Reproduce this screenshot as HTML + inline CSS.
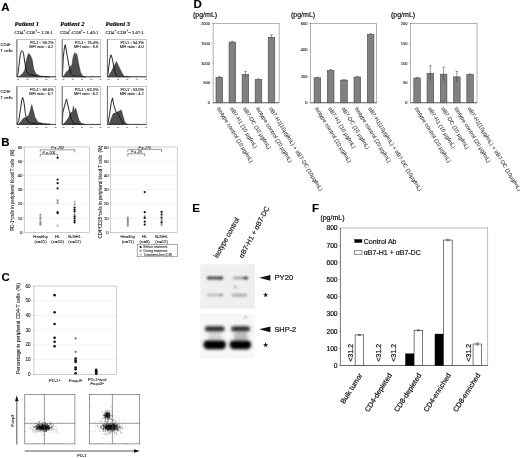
<!DOCTYPE html>
<html lang="en">
<head>
<meta charset="utf-8">
<title>Figure</title>
<style>
html,body{margin:0;padding:0;background:#fff;}
body{width:520px;height:458px;overflow:hidden;}
svg{display:block;}
.ss{font-family:'Liberation Sans', Arial, sans-serif;}
.sf{font-family:'Liberation Serif', 'Times New Roman', serif;}
</style>
</head>
<body>
<svg width="520" height="458" viewBox="0 0 520 458">
<defs>
<filter id="b1" x="-10%" y="-10%" width="120%" height="120%"><feGaussianBlur stdDeviation="1.0"/></filter>
<filter id="b2" x="-10%" y="-20%" width="120%" height="140%"><feGaussianBlur stdDeviation="1.35"/></filter>
<filter id="bl" x="-5%" y="-5%" width="110%" height="110%"><feGaussianBlur stdDeviation="0.6"/></filter>
</defs>
<rect width="520" height="458" fill="#fff"/>
<text class="ss" x="1.20" y="11.20" font-size="11.5" font-weight="bold" fill="#000" stroke="#000" stroke-width="0.15">A</text>
<text class="sf" x="14.60" y="25.80" font-size="6.6" font-weight="bold" font-style="italic" fill="#000" stroke="#000" stroke-width="0.15">Patient 1</text>
<text class="sf" x="14.60" y="33.80" font-size="4.7" fill="#222" stroke="#222" stroke-width="0.1">CD4<tspan dy="-1.41" font-size="2.91">+</tspan><tspan dy="1.41" font-size="0.47"> </tspan>:CD8<tspan dy="-1.41" font-size="2.91">+</tspan><tspan dy="1.41" font-size="0.47"> </tspan> = 1.26:1</text>
<text class="sf" x="60.20" y="25.80" font-size="6.6" font-weight="bold" font-style="italic" fill="#000" stroke="#000" stroke-width="0.15">Patient 2</text>
<text class="sf" x="60.20" y="33.80" font-size="4.7" fill="#222" stroke="#222" stroke-width="0.1">CD4<tspan dy="-1.41" font-size="2.91">+</tspan><tspan dy="1.41" font-size="0.47"> </tspan>:CD8<tspan dy="-1.41" font-size="2.91">+</tspan><tspan dy="1.41" font-size="0.47"> </tspan> = 1.40:1</text>
<text class="sf" x="105.60" y="25.80" font-size="6.6" font-weight="bold" font-style="italic" fill="#000" stroke="#000" stroke-width="0.15">Patient 3</text>
<text class="sf" x="105.60" y="33.80" font-size="4.7" fill="#222" stroke="#222" stroke-width="0.1">CD4<tspan dy="-1.41" font-size="2.91">+</tspan><tspan dy="1.41" font-size="0.47"> </tspan>:CD8<tspan dy="-1.41" font-size="2.91">+</tspan><tspan dy="1.41" font-size="0.47"> </tspan> = 3.67:1</text>
<text class="ss" x="0.60" y="45.80" font-size="4.2" fill="#111" stroke="#111" stroke-width="0.1">CD4<tspan dy="-1.26" font-size="2.60">+</tspan><tspan dy="1.26" font-size="0.42"> </tspan></text>
<text class="ss" x="0.60" y="51.60" font-size="4.2" fill="#111" stroke="#111" stroke-width="0.1">T cells</text>
<text class="ss" x="0.60" y="93.00" font-size="4.2" fill="#111" stroke="#111" stroke-width="0.1">CD8<tspan dy="-1.26" font-size="2.60">+</tspan><tspan dy="1.26" font-size="0.42"> </tspan></text>
<text class="ss" x="0.60" y="98.80" font-size="4.2" fill="#111" stroke="#111" stroke-width="0.1">T cells</text>
<polygon points="18.8,76.8 22.6,73.5 24.6,70.7 26.0,62.0 27.4,56.3 28.3,54.0 28.9,53.4 29.8,54.5 30.8,56.3 32.3,60.1 33.7,68.7 35.6,73.5 39.9,75.9 47.6,76.8" fill="#4e4e4e" stroke="#222" stroke-width="0.4"/>
<polyline points="16.9,76.8 18.0,74.0 18.8,66.8 20.2,55.3 21.2,51.5 21.9,50.5 22.8,51.5 23.6,53.9 25.0,63.9 26.5,71.6 29.4,74.5 38.0,76.3 50.0,76.8" fill="none" stroke="#111" stroke-width="0.9" stroke-linejoin="round"/>
<rect x="16.90" y="39.60" width="38.90" height="37.20" fill="none" stroke="#8a8a8a" stroke-width="0.5"/>
<line x1="16.90" y1="39.60" x2="16.90" y2="76.80" stroke="#444" stroke-width="0.7"/>
<line x1="16.90" y1="76.80" x2="55.80" y2="76.80" stroke="#222" stroke-width="0.8"/>
<line x1="18.10" y1="76.80" x2="18.10" y2="78.00" stroke="#444" stroke-width="0.4"/>
<text class="ss" x="18.10" y="80.40" font-size="1.8" text-anchor="middle" fill="#666" stroke="#666" stroke-width="0.1">10</text>
<line x1="27.47" y1="76.80" x2="27.47" y2="78.00" stroke="#444" stroke-width="0.4"/>
<text class="ss" x="27.47" y="80.40" font-size="1.8" text-anchor="middle" fill="#666" stroke="#666" stroke-width="0.1">10</text>
<line x1="36.85" y1="76.80" x2="36.85" y2="78.00" stroke="#444" stroke-width="0.4"/>
<text class="ss" x="36.85" y="80.40" font-size="1.8" text-anchor="middle" fill="#666" stroke="#666" stroke-width="0.1">10</text>
<line x1="46.22" y1="76.80" x2="46.22" y2="78.00" stroke="#444" stroke-width="0.4"/>
<text class="ss" x="46.22" y="80.40" font-size="1.8" text-anchor="middle" fill="#666" stroke="#666" stroke-width="0.1">10</text>
<line x1="55.60" y1="76.80" x2="55.60" y2="78.00" stroke="#444" stroke-width="0.4"/>
<text class="ss" x="55.60" y="80.40" font-size="1.8" text-anchor="middle" fill="#666" stroke="#666" stroke-width="0.1">10</text>
<text class="ss" x="53.50" y="43.80" font-size="3.9" text-anchor="end" fill="#222" stroke="#222" stroke-width="0.1">PD-1<tspan dy="-1.17" font-size="2.42">+</tspan><tspan dy="1.17" font-size="0.39"> </tspan> : 59.2%</text>
<text class="ss" x="53.20" y="48.00" font-size="3.9" text-anchor="end" fill="#222" stroke="#222" stroke-width="0.1">MFI ratio : 4.2</text>
<polygon points="63.3,76.8 66.6,71.6 68.1,70.7 70.0,66.8 71.9,64.9 72.9,58.2 74.2,53.5 74.8,52.4 75.8,55.3 76.7,53.4 77.6,57.5 78.7,63.9 80.6,72.6 83.0,76.3 86.0,76.8" fill="#4e4e4e" stroke="#222" stroke-width="0.4"/>
<polyline points="62.4,76.8 63.3,57.2 64.4,48.0 65.2,44.7 66.1,49.0 67.1,55.3 69.0,65.9 71.0,73.5 73.4,76.0 85.0,76.8" fill="none" stroke="#111" stroke-width="0.9" stroke-linejoin="round"/>
<rect x="62.20" y="39.60" width="38.50" height="37.20" fill="none" stroke="#8a8a8a" stroke-width="0.5"/>
<line x1="62.20" y1="39.60" x2="62.20" y2="76.80" stroke="#444" stroke-width="0.7"/>
<line x1="62.20" y1="76.80" x2="100.70" y2="76.80" stroke="#222" stroke-width="0.8"/>
<line x1="63.40" y1="76.80" x2="63.40" y2="78.00" stroke="#444" stroke-width="0.4"/>
<text class="ss" x="63.40" y="80.40" font-size="1.8" text-anchor="middle" fill="#666" stroke="#666" stroke-width="0.1">10</text>
<line x1="72.68" y1="76.80" x2="72.68" y2="78.00" stroke="#444" stroke-width="0.4"/>
<text class="ss" x="72.68" y="80.40" font-size="1.8" text-anchor="middle" fill="#666" stroke="#666" stroke-width="0.1">10</text>
<line x1="81.95" y1="76.80" x2="81.95" y2="78.00" stroke="#444" stroke-width="0.4"/>
<text class="ss" x="81.95" y="80.40" font-size="1.8" text-anchor="middle" fill="#666" stroke="#666" stroke-width="0.1">10</text>
<line x1="91.23" y1="76.80" x2="91.23" y2="78.00" stroke="#444" stroke-width="0.4"/>
<text class="ss" x="91.23" y="80.40" font-size="1.8" text-anchor="middle" fill="#666" stroke="#666" stroke-width="0.1">10</text>
<line x1="100.50" y1="76.80" x2="100.50" y2="78.00" stroke="#444" stroke-width="0.4"/>
<text class="ss" x="100.50" y="80.40" font-size="1.8" text-anchor="middle" fill="#666" stroke="#666" stroke-width="0.1">10</text>
<text class="ss" x="98.40" y="43.80" font-size="3.9" text-anchor="end" fill="#222" stroke="#222" stroke-width="0.1">PD-1<tspan dy="-1.17" font-size="2.42">+</tspan><tspan dy="1.17" font-size="0.39"> </tspan> : 76.4%</text>
<text class="ss" x="98.10" y="48.00" font-size="3.9" text-anchor="end" fill="#222" stroke="#222" stroke-width="0.1">MFI ratio : 8.8</text>
<polygon points="108.3,76.8 111.7,70.7 114.1,65.9 116.5,61.5 119.4,67.8 122.3,73.5 124.7,76.8" fill="#4e4e4e" stroke="#222" stroke-width="0.4"/>
<polyline points="107.6,76.8 108.8,66.8 110.0,58.0 110.9,54.8 111.8,57.0 112.6,60.1 114.1,68.7 116.0,75.0 118.0,76.4 130.0,76.8" fill="none" stroke="#111" stroke-width="0.9" stroke-linejoin="round"/>
<rect x="107.40" y="39.60" width="38.90" height="37.20" fill="none" stroke="#8a8a8a" stroke-width="0.5"/>
<line x1="107.40" y1="39.60" x2="107.40" y2="76.80" stroke="#444" stroke-width="0.7"/>
<line x1="107.40" y1="76.80" x2="146.30" y2="76.80" stroke="#222" stroke-width="0.8"/>
<line x1="108.60" y1="76.80" x2="108.60" y2="78.00" stroke="#444" stroke-width="0.4"/>
<text class="ss" x="108.60" y="80.40" font-size="1.8" text-anchor="middle" fill="#666" stroke="#666" stroke-width="0.1">10</text>
<line x1="117.98" y1="76.80" x2="117.98" y2="78.00" stroke="#444" stroke-width="0.4"/>
<text class="ss" x="117.98" y="80.40" font-size="1.8" text-anchor="middle" fill="#666" stroke="#666" stroke-width="0.1">10</text>
<line x1="127.35" y1="76.80" x2="127.35" y2="78.00" stroke="#444" stroke-width="0.4"/>
<text class="ss" x="127.35" y="80.40" font-size="1.8" text-anchor="middle" fill="#666" stroke="#666" stroke-width="0.1">10</text>
<line x1="136.73" y1="76.80" x2="136.73" y2="78.00" stroke="#444" stroke-width="0.4"/>
<text class="ss" x="136.73" y="80.40" font-size="1.8" text-anchor="middle" fill="#666" stroke="#666" stroke-width="0.1">10</text>
<line x1="146.10" y1="76.80" x2="146.10" y2="78.00" stroke="#444" stroke-width="0.4"/>
<text class="ss" x="146.10" y="80.40" font-size="1.8" text-anchor="middle" fill="#666" stroke="#666" stroke-width="0.1">10</text>
<text class="ss" x="144.00" y="43.80" font-size="3.9" text-anchor="end" fill="#222" stroke="#222" stroke-width="0.1">PD-1<tspan dy="-1.17" font-size="2.42">+</tspan><tspan dy="1.17" font-size="0.39"> </tspan> : 54.3%</text>
<text class="ss" x="143.70" y="48.00" font-size="3.9" text-anchor="end" fill="#222" stroke="#222" stroke-width="0.1">MFI ratio : 4.0</text>
<polygon points="18.3,124.4 21.7,120.5 23.6,118.1 26.5,117.6 28.9,114.7 30.3,109.9 31.8,104.6 33.2,109.9 35.1,117.6 38.0,121.9 42.8,123.4 50.5,124.4" fill="#4e4e4e" stroke="#222" stroke-width="0.4"/>
<polyline points="17.1,124.4 18.8,120.5 20.7,108.0 21.8,100.0 22.6,97.4 23.4,99.5 24.1,103.2 25.5,114.7 27.0,120.5 30.3,122.9 38.0,124.0 50.0,124.4" fill="none" stroke="#111" stroke-width="0.9" stroke-linejoin="round"/>
<rect x="16.90" y="86.40" width="38.90" height="38.00" fill="none" stroke="#8a8a8a" stroke-width="0.5"/>
<line x1="16.90" y1="86.40" x2="16.90" y2="124.40" stroke="#444" stroke-width="0.7"/>
<line x1="16.90" y1="124.40" x2="55.80" y2="124.40" stroke="#222" stroke-width="0.8"/>
<line x1="18.10" y1="124.40" x2="18.10" y2="125.60" stroke="#444" stroke-width="0.4"/>
<text class="ss" x="18.10" y="128.00" font-size="1.8" text-anchor="middle" fill="#666" stroke="#666" stroke-width="0.1">10</text>
<line x1="27.47" y1="124.40" x2="27.47" y2="125.60" stroke="#444" stroke-width="0.4"/>
<text class="ss" x="27.47" y="128.00" font-size="1.8" text-anchor="middle" fill="#666" stroke="#666" stroke-width="0.1">10</text>
<line x1="36.85" y1="124.40" x2="36.85" y2="125.60" stroke="#444" stroke-width="0.4"/>
<text class="ss" x="36.85" y="128.00" font-size="1.8" text-anchor="middle" fill="#666" stroke="#666" stroke-width="0.1">10</text>
<line x1="46.22" y1="124.40" x2="46.22" y2="125.60" stroke="#444" stroke-width="0.4"/>
<text class="ss" x="46.22" y="128.00" font-size="1.8" text-anchor="middle" fill="#666" stroke="#666" stroke-width="0.1">10</text>
<line x1="55.60" y1="124.40" x2="55.60" y2="125.60" stroke="#444" stroke-width="0.4"/>
<text class="ss" x="55.60" y="128.00" font-size="1.8" text-anchor="middle" fill="#666" stroke="#666" stroke-width="0.1">10</text>
<text class="ss" x="53.50" y="90.60" font-size="3.9" text-anchor="end" fill="#222" stroke="#222" stroke-width="0.1">PD-1<tspan dy="-1.17" font-size="2.42">+</tspan><tspan dy="1.17" font-size="0.39"> </tspan> : 68.6%</text>
<text class="ss" x="53.20" y="94.80" font-size="3.9" text-anchor="end" fill="#222" stroke="#222" stroke-width="0.1">MFI ratio : 6.7</text>
<polygon points="63.3,124.4 66.6,120.5 68.6,117.6 70.5,112.8 72.4,111.9 73.4,106.1 74.3,110.9 75.8,108.0 77.2,113.8 79.1,120.5 82.0,123.9 84.0,124.4" fill="#4e4e4e" stroke="#222" stroke-width="0.4"/>
<polyline points="62.3,124.4 62.8,112.8 64.7,105.1 66.0,100.5 66.5,98.9 67.0,101.0 67.6,104.2 69.5,111.9 71.4,119.5 73.9,123.9 85.0,124.4" fill="none" stroke="#111" stroke-width="0.9" stroke-linejoin="round"/>
<rect x="62.20" y="86.40" width="38.50" height="38.00" fill="none" stroke="#8a8a8a" stroke-width="0.5"/>
<line x1="62.20" y1="86.40" x2="62.20" y2="124.40" stroke="#444" stroke-width="0.7"/>
<line x1="62.20" y1="124.40" x2="100.70" y2="124.40" stroke="#222" stroke-width="0.8"/>
<line x1="63.40" y1="124.40" x2="63.40" y2="125.60" stroke="#444" stroke-width="0.4"/>
<text class="ss" x="63.40" y="128.00" font-size="1.8" text-anchor="middle" fill="#666" stroke="#666" stroke-width="0.1">10</text>
<line x1="72.68" y1="124.40" x2="72.68" y2="125.60" stroke="#444" stroke-width="0.4"/>
<text class="ss" x="72.68" y="128.00" font-size="1.8" text-anchor="middle" fill="#666" stroke="#666" stroke-width="0.1">10</text>
<line x1="81.95" y1="124.40" x2="81.95" y2="125.60" stroke="#444" stroke-width="0.4"/>
<text class="ss" x="81.95" y="128.00" font-size="1.8" text-anchor="middle" fill="#666" stroke="#666" stroke-width="0.1">10</text>
<line x1="91.23" y1="124.40" x2="91.23" y2="125.60" stroke="#444" stroke-width="0.4"/>
<text class="ss" x="91.23" y="128.00" font-size="1.8" text-anchor="middle" fill="#666" stroke="#666" stroke-width="0.1">10</text>
<line x1="100.50" y1="124.40" x2="100.50" y2="125.60" stroke="#444" stroke-width="0.4"/>
<text class="ss" x="100.50" y="128.00" font-size="1.8" text-anchor="middle" fill="#666" stroke="#666" stroke-width="0.1">10</text>
<text class="ss" x="98.40" y="90.60" font-size="3.9" text-anchor="end" fill="#222" stroke="#222" stroke-width="0.1">PD-1<tspan dy="-1.17" font-size="2.42">+</tspan><tspan dy="1.17" font-size="0.39"> </tspan> : 63.3%</text>
<text class="ss" x="98.10" y="94.80" font-size="3.9" text-anchor="end" fill="#222" stroke="#222" stroke-width="0.1">MFI ratio : 6.2</text>
<polygon points="108.8,124.4 111.2,118.6 113.1,113.8 115.5,112.8 118.4,111.4 121.3,109.9 122.7,114.7 124.7,121.9 127.5,124.4" fill="#4e4e4e" stroke="#222" stroke-width="0.4"/>
<polyline points="107.8,124.4 109.3,115.7 111.2,103.2 112.5,97.9 113.6,104.2 116.0,111.9 118.4,114.0 121.0,120.0 124.0,124.4" fill="none" stroke="#111" stroke-width="0.9" stroke-linejoin="round"/>
<rect x="107.40" y="86.40" width="38.90" height="38.00" fill="none" stroke="#8a8a8a" stroke-width="0.5"/>
<line x1="107.40" y1="86.40" x2="107.40" y2="124.40" stroke="#444" stroke-width="0.7"/>
<line x1="107.40" y1="124.40" x2="146.30" y2="124.40" stroke="#222" stroke-width="0.8"/>
<line x1="108.60" y1="124.40" x2="108.60" y2="125.60" stroke="#444" stroke-width="0.4"/>
<text class="ss" x="108.60" y="128.00" font-size="1.8" text-anchor="middle" fill="#666" stroke="#666" stroke-width="0.1">10</text>
<line x1="117.98" y1="124.40" x2="117.98" y2="125.60" stroke="#444" stroke-width="0.4"/>
<text class="ss" x="117.98" y="128.00" font-size="1.8" text-anchor="middle" fill="#666" stroke="#666" stroke-width="0.1">10</text>
<line x1="127.35" y1="124.40" x2="127.35" y2="125.60" stroke="#444" stroke-width="0.4"/>
<text class="ss" x="127.35" y="128.00" font-size="1.8" text-anchor="middle" fill="#666" stroke="#666" stroke-width="0.1">10</text>
<line x1="136.73" y1="124.40" x2="136.73" y2="125.60" stroke="#444" stroke-width="0.4"/>
<text class="ss" x="136.73" y="128.00" font-size="1.8" text-anchor="middle" fill="#666" stroke="#666" stroke-width="0.1">10</text>
<line x1="146.10" y1="124.40" x2="146.10" y2="125.60" stroke="#444" stroke-width="0.4"/>
<text class="ss" x="146.10" y="128.00" font-size="1.8" text-anchor="middle" fill="#666" stroke="#666" stroke-width="0.1">10</text>
<text class="ss" x="144.00" y="90.60" font-size="3.9" text-anchor="end" fill="#222" stroke="#222" stroke-width="0.1">PD-1<tspan dy="-1.17" font-size="2.42">+</tspan><tspan dy="1.17" font-size="0.39"> </tspan> : 53.0%</text>
<text class="ss" x="143.70" y="94.80" font-size="3.9" text-anchor="end" fill="#222" stroke="#222" stroke-width="0.1">MFI ratio : 4.2</text>
<text class="ss" x="1.20" y="146.30" font-size="11.5" font-weight="bold" fill="#000" stroke="#000" stroke-width="0.15">B</text>
<line x1="23.00" y1="232.40" x2="24.20" y2="232.40" stroke="#888" stroke-width="0.4"/>
<text class="ss" x="22.40" y="233.90" font-size="4.2" text-anchor="end" fill="#222" stroke="#222" stroke-width="0.1">0</text>
<line x1="24.20" y1="218.17" x2="89.60" y2="218.17" stroke="#e2e2e2" stroke-width="0.4"/>
<line x1="23.00" y1="218.17" x2="24.20" y2="218.17" stroke="#888" stroke-width="0.4"/>
<text class="ss" x="22.40" y="219.67" font-size="4.2" text-anchor="end" fill="#222" stroke="#222" stroke-width="0.1">10</text>
<line x1="24.20" y1="203.93" x2="89.60" y2="203.93" stroke="#e2e2e2" stroke-width="0.4"/>
<line x1="23.00" y1="203.93" x2="24.20" y2="203.93" stroke="#888" stroke-width="0.4"/>
<text class="ss" x="22.40" y="205.43" font-size="4.2" text-anchor="end" fill="#222" stroke="#222" stroke-width="0.1">20</text>
<line x1="24.20" y1="189.70" x2="89.60" y2="189.70" stroke="#e2e2e2" stroke-width="0.4"/>
<line x1="23.00" y1="189.70" x2="24.20" y2="189.70" stroke="#888" stroke-width="0.4"/>
<text class="ss" x="22.40" y="191.20" font-size="4.2" text-anchor="end" fill="#222" stroke="#222" stroke-width="0.1">30</text>
<line x1="24.20" y1="175.47" x2="89.60" y2="175.47" stroke="#e2e2e2" stroke-width="0.4"/>
<line x1="23.00" y1="175.47" x2="24.20" y2="175.47" stroke="#888" stroke-width="0.4"/>
<text class="ss" x="22.40" y="176.97" font-size="4.2" text-anchor="end" fill="#222" stroke="#222" stroke-width="0.1">40</text>
<line x1="24.20" y1="161.23" x2="89.60" y2="161.23" stroke="#e2e2e2" stroke-width="0.4"/>
<line x1="23.00" y1="161.23" x2="24.20" y2="161.23" stroke="#888" stroke-width="0.4"/>
<text class="ss" x="22.40" y="162.73" font-size="4.2" text-anchor="end" fill="#222" stroke="#222" stroke-width="0.1">50</text>
<line x1="23.00" y1="147.00" x2="24.20" y2="147.00" stroke="#888" stroke-width="0.4"/>
<text class="ss" x="22.40" y="148.50" font-size="4.2" text-anchor="end" fill="#222" stroke="#222" stroke-width="0.1">60</text>
<rect x="24.20" y="147.00" width="65.40" height="85.40" fill="none" stroke="#9a9a9a" stroke-width="0.5"/>
<text class="ss" transform="translate(13.70 190.00) rotate(-90)" font-size="4.42" text-anchor="middle" fill="#222" stroke="#222" stroke-width="0.1">PD-1<tspan dy="-1.32" font-size="2.73">+</tspan><tspan dy="1.32" font-size="0.44"> </tspan> cells in peripheral blood T cells &#160;(%)</text>
<circle cx="40.40" cy="214.75" r="1.1" fill="#8c8c8c"/>
<circle cx="40.40" cy="217.31" r="1.1" fill="#8c8c8c"/>
<circle cx="40.40" cy="219.31" r="1.1" fill="#8c8c8c"/>
<circle cx="40.40" cy="222.01" r="1.1" fill="#8c8c8c"/>
<circle cx="40.40" cy="223.43" r="1.1" fill="#8c8c8c"/>
<circle cx="40.40" cy="224.57" r="1.1" fill="#8c8c8c"/>
<circle cx="57.60" cy="157.82" r="1.1" fill="#111"/>
<circle cx="57.60" cy="179.59" r="1.1" fill="#111"/>
<circle cx="57.60" cy="183.15" r="1.1" fill="#111"/>
<circle cx="57.60" cy="188.28" r="1.1" fill="#111"/>
<circle cx="57.60" cy="200.38" r="1.1" fill="#8c8c8c"/>
<circle cx="57.60" cy="202.94" r="1.1" fill="#8c8c8c"/>
<circle cx="57.60" cy="212.19" r="1.1" fill="#111"/>
<circle cx="57.60" cy="213.19" r="1.1" fill="#111"/>
<circle cx="57.60" cy="225.57" r="0.9" fill="#ddd" stroke="#888" stroke-width="0.4"/>
<circle cx="74.60" cy="201.94" r="0.9" fill="#ddd" stroke="#888" stroke-width="0.4"/>
<circle cx="74.60" cy="204.50" r="1.1" fill="#8c8c8c"/>
<circle cx="74.60" cy="207.49" r="1.1" fill="#111"/>
<circle cx="74.60" cy="209.63" r="1.1" fill="#111"/>
<circle cx="74.60" cy="211.62" r="1.1" fill="#111"/>
<circle cx="74.60" cy="214.47" r="1.1" fill="#8c8c8c"/>
<circle cx="74.60" cy="216.46" r="1.1" fill="#111"/>
<circle cx="74.60" cy="218.45" r="1.1" fill="#111"/>
<circle cx="74.60" cy="220.59" r="1.1" fill="#111"/>
<circle cx="74.60" cy="222.44" r="1.1" fill="#111"/>
<path d="M40.20 152.40V149.80H74.80V152.40" fill="none" stroke="#333" stroke-width="0.5"/>
<text class="ss" x="57.50" y="149.20" font-size="3.4" text-anchor="middle" font-style="italic" fill="#333" stroke="#333" stroke-width="0.1">P = .232</text>
<path d="M40.20 156.80V154.20H57.60V156.80" fill="none" stroke="#333" stroke-width="0.5"/>
<text class="ss" x="48.90" y="153.60" font-size="3.4" text-anchor="middle" font-style="italic" fill="#333" stroke="#333" stroke-width="0.1">P = .006</text>
<text class="ss" x="40.60" y="237.60" font-size="4.3" text-anchor="middle" fill="#222" stroke="#222" stroke-width="0.1">Healthy</text>
<text class="ss" x="40.60" y="242.60" font-size="4.3" text-anchor="middle" fill="#222" stroke="#222" stroke-width="0.1">(n=11)</text>
<text class="ss" x="57.60" y="237.60" font-size="4.3" text-anchor="middle" fill="#222" stroke="#222" stroke-width="0.1">HL</text>
<text class="ss" x="57.60" y="242.60" font-size="4.3" text-anchor="middle" fill="#222" stroke="#222" stroke-width="0.1">(n=10)</text>
<text class="ss" x="74.60" y="237.60" font-size="4.3" text-anchor="middle" fill="#222" stroke="#222" stroke-width="0.1">B-NHL</text>
<text class="ss" x="74.60" y="242.60" font-size="4.3" text-anchor="middle" fill="#222" stroke="#222" stroke-width="0.1">(n=12)</text>
<line x1="109.40" y1="232.40" x2="110.60" y2="232.40" stroke="#888" stroke-width="0.4"/>
<text class="ss" x="108.60" y="233.90" font-size="4.2" text-anchor="end" fill="#222" stroke="#222" stroke-width="0.1">0</text>
<line x1="110.60" y1="218.17" x2="177.20" y2="218.17" stroke="#e2e2e2" stroke-width="0.4"/>
<line x1="109.40" y1="218.17" x2="110.60" y2="218.17" stroke="#888" stroke-width="0.4"/>
<text class="ss" x="108.60" y="219.67" font-size="4.2" text-anchor="end" fill="#222" stroke="#222" stroke-width="0.1">10</text>
<line x1="110.60" y1="203.93" x2="177.20" y2="203.93" stroke="#e2e2e2" stroke-width="0.4"/>
<line x1="109.40" y1="203.93" x2="110.60" y2="203.93" stroke="#888" stroke-width="0.4"/>
<text class="ss" x="108.60" y="205.43" font-size="4.2" text-anchor="end" fill="#222" stroke="#222" stroke-width="0.1">20</text>
<line x1="110.60" y1="189.70" x2="177.20" y2="189.70" stroke="#e2e2e2" stroke-width="0.4"/>
<line x1="109.40" y1="189.70" x2="110.60" y2="189.70" stroke="#888" stroke-width="0.4"/>
<text class="ss" x="108.60" y="191.20" font-size="4.2" text-anchor="end" fill="#222" stroke="#222" stroke-width="0.1">30</text>
<line x1="110.60" y1="175.47" x2="177.20" y2="175.47" stroke="#e2e2e2" stroke-width="0.4"/>
<line x1="109.40" y1="175.47" x2="110.60" y2="175.47" stroke="#888" stroke-width="0.4"/>
<text class="ss" x="108.60" y="176.97" font-size="4.2" text-anchor="end" fill="#222" stroke="#222" stroke-width="0.1">40</text>
<line x1="110.60" y1="161.23" x2="177.20" y2="161.23" stroke="#e2e2e2" stroke-width="0.4"/>
<line x1="109.40" y1="161.23" x2="110.60" y2="161.23" stroke="#888" stroke-width="0.4"/>
<text class="ss" x="108.60" y="162.73" font-size="4.2" text-anchor="end" fill="#222" stroke="#222" stroke-width="0.1">50</text>
<line x1="109.40" y1="147.00" x2="110.60" y2="147.00" stroke="#888" stroke-width="0.4"/>
<text class="ss" x="108.60" y="148.50" font-size="4.2" text-anchor="end" fill="#222" stroke="#222" stroke-width="0.1">60</text>
<rect x="110.60" y="147.00" width="66.60" height="85.40" fill="none" stroke="#9a9a9a" stroke-width="0.5"/>
<text class="ss" transform="translate(101.50 192.10) rotate(-90)" font-size="4.42" text-anchor="middle" fill="#222" stroke="#222" stroke-width="0.1">CD4<tspan dy="-1.32" font-size="2.73">+</tspan><tspan dy="1.32" font-size="0.44"> </tspan>CD25<tspan dy="-1.32" font-size="2.73">+</tspan><tspan dy="1.32" font-size="0.44"> </tspan> cells in peripheral blood T cells &#160;(%)</text>
<circle cx="127.80" cy="217.60" r="1.1" fill="#8c8c8c"/>
<circle cx="127.80" cy="219.31" r="1.1" fill="#8c8c8c"/>
<circle cx="127.80" cy="220.87" r="1.1" fill="#8c8c8c"/>
<circle cx="127.80" cy="222.44" r="1.1" fill="#8c8c8c"/>
<circle cx="127.80" cy="224.00" r="1.1" fill="#8c8c8c"/>
<circle cx="127.80" cy="225.57" r="1.1" fill="#8c8c8c"/>
<circle cx="144.70" cy="192.12" r="1.1" fill="#111"/>
<circle cx="144.70" cy="212.19" r="1.1" fill="#111"/>
<circle cx="144.70" cy="216.32" r="1.1" fill="#8c8c8c"/>
<circle cx="144.70" cy="217.88" r="1.1" fill="#111"/>
<circle cx="144.70" cy="221.72" r="1.1" fill="#111"/>
<circle cx="144.70" cy="224.57" r="1.1" fill="#111"/>
<circle cx="161.60" cy="211.90" r="1.1" fill="#111"/>
<circle cx="161.60" cy="214.61" r="1.1" fill="#111"/>
<circle cx="161.60" cy="217.60" r="1.1" fill="#111"/>
<circle cx="161.60" cy="219.31" r="1.1" fill="#8c8c8c"/>
<circle cx="161.60" cy="221.01" r="1.1" fill="#8c8c8c"/>
<circle cx="161.60" cy="222.58" r="1.1" fill="#111"/>
<circle cx="161.60" cy="225.00" r="1.1" fill="#8c8c8c"/>
<path d="M127.80 152.00V149.40H161.60V152.00" fill="none" stroke="#333" stroke-width="0.5"/>
<text class="ss" x="144.70" y="148.80" font-size="3.4" text-anchor="middle" font-style="italic" fill="#333" stroke="#333" stroke-width="0.1">P = .275</text>
<path d="M127.80 156.40V153.80H144.70V156.40" fill="none" stroke="#333" stroke-width="0.5"/>
<text class="ss" x="136.25" y="153.20" font-size="3.4" text-anchor="middle" font-style="italic" fill="#333" stroke="#333" stroke-width="0.1">P = .28</text>
<text class="ss" x="127.80" y="237.60" font-size="4.3" text-anchor="middle" fill="#222" stroke="#222" stroke-width="0.1">Healthy</text>
<text class="ss" x="127.80" y="242.60" font-size="4.3" text-anchor="middle" fill="#222" stroke="#222" stroke-width="0.1">(n=11)</text>
<text class="ss" x="144.70" y="237.60" font-size="4.3" text-anchor="middle" fill="#222" stroke="#222" stroke-width="0.1">HL</text>
<text class="ss" x="144.70" y="242.60" font-size="4.3" text-anchor="middle" fill="#222" stroke="#222" stroke-width="0.1">(n=8)</text>
<text class="ss" x="161.60" y="237.60" font-size="4.3" text-anchor="middle" fill="#222" stroke="#222" stroke-width="0.1">B-NHL</text>
<text class="ss" x="161.60" y="242.60" font-size="4.3" text-anchor="middle" fill="#222" stroke="#222" stroke-width="0.1">(n=12)</text>
<rect x="137.20" y="244.40" width="40.00" height="12.40" fill="#fff" stroke="#555" stroke-width="0.5"/>
<circle cx="140.60" cy="247.00" r="1.1" fill="#111"/>
<text class="ss" x="143.60" y="248.10" font-size="3.2" fill="#333" stroke="#333" stroke-width="0.1">Before treatment</text>
<circle cx="140.60" cy="250.80" r="1.1" fill="#8c8c8c"/>
<text class="ss" x="143.60" y="251.90" font-size="3.2" fill="#333" stroke="#333" stroke-width="0.1">During treatment</text>
<circle cx="140.60" cy="254.60" r="0.9" fill="#ddd" stroke="#888" stroke-width="0.4"/>
<text class="ss" x="143.60" y="255.70" font-size="3.2" fill="#333" stroke="#333" stroke-width="0.1">Treatment-free (CR)</text>
<text class="ss" x="1.40" y="281.00" font-size="11.5" font-weight="bold" fill="#000" stroke="#000" stroke-width="0.15">C</text>
<line x1="32.80" y1="374.40" x2="34.00" y2="374.40" stroke="#888" stroke-width="0.4"/>
<text class="ss" x="30.50" y="375.90" font-size="4.6" text-anchor="end" fill="#222" stroke="#222" stroke-width="0.1">0</text>
<line x1="34.00" y1="359.67" x2="116.20" y2="359.67" stroke="#e2e2e2" stroke-width="0.4"/>
<line x1="32.80" y1="359.67" x2="34.00" y2="359.67" stroke="#888" stroke-width="0.4"/>
<text class="ss" x="30.50" y="361.17" font-size="4.6" text-anchor="end" fill="#222" stroke="#222" stroke-width="0.1">10</text>
<line x1="34.00" y1="344.93" x2="116.20" y2="344.93" stroke="#e2e2e2" stroke-width="0.4"/>
<line x1="32.80" y1="344.93" x2="34.00" y2="344.93" stroke="#888" stroke-width="0.4"/>
<text class="ss" x="30.50" y="346.43" font-size="4.6" text-anchor="end" fill="#222" stroke="#222" stroke-width="0.1">20</text>
<line x1="34.00" y1="330.20" x2="116.20" y2="330.20" stroke="#e2e2e2" stroke-width="0.4"/>
<line x1="32.80" y1="330.20" x2="34.00" y2="330.20" stroke="#888" stroke-width="0.4"/>
<text class="ss" x="30.50" y="331.70" font-size="4.6" text-anchor="end" fill="#222" stroke="#222" stroke-width="0.1">30</text>
<line x1="34.00" y1="315.47" x2="116.20" y2="315.47" stroke="#e2e2e2" stroke-width="0.4"/>
<line x1="32.80" y1="315.47" x2="34.00" y2="315.47" stroke="#888" stroke-width="0.4"/>
<text class="ss" x="30.50" y="316.97" font-size="4.6" text-anchor="end" fill="#222" stroke="#222" stroke-width="0.1">40</text>
<line x1="34.00" y1="300.73" x2="116.20" y2="300.73" stroke="#e2e2e2" stroke-width="0.4"/>
<line x1="32.80" y1="300.73" x2="34.00" y2="300.73" stroke="#888" stroke-width="0.4"/>
<text class="ss" x="30.50" y="302.23" font-size="4.6" text-anchor="end" fill="#222" stroke="#222" stroke-width="0.1">50</text>
<line x1="32.80" y1="286.00" x2="34.00" y2="286.00" stroke="#888" stroke-width="0.4"/>
<text class="ss" x="30.50" y="287.50" font-size="4.6" text-anchor="end" fill="#222" stroke="#222" stroke-width="0.1">60</text>
<rect x="34.00" y="286.00" width="82.20" height="88.40" fill="none" stroke="#9a9a9a" stroke-width="0.5"/>
<text class="ss" transform="translate(20.00 328.50) rotate(-90)" font-size="4.92" text-anchor="middle" fill="#222" stroke="#222" stroke-width="0.1">Percentage in peripheral CD4<tspan dy="-1.47" font-size="3.04">+</tspan><tspan dy="1.47" font-size="0.49"> </tspan> T cells &#160;(%)</text>
<circle cx="54.60" cy="295.13" r="1.3" fill="#111"/>
<circle cx="54.60" cy="312.23" r="1.3" fill="#111"/>
<circle cx="54.60" cy="324.01" r="1.3" fill="#111"/>
<circle cx="54.60" cy="337.86" r="1.3" fill="#111"/>
<circle cx="54.60" cy="341.69" r="1.3" fill="#111"/>
<circle cx="54.60" cy="346.26" r="1.3" fill="#111"/>
<path d="M74.50 338.30H76.70M75.60 337.20V339.40" stroke="#222" stroke-width="0.6"/>
<path d="M74.50 351.86H76.70M75.60 350.76V352.96" stroke="#222" stroke-width="0.6"/>
<circle cx="75.60" cy="358.49" r="1.3" fill="#111"/>
<circle cx="75.60" cy="360.55" r="1.3" fill="#111"/>
<circle cx="75.60" cy="362.02" r="1.3" fill="#111"/>
<circle cx="75.60" cy="367.62" r="1.3" fill="#111"/>
<circle cx="75.60" cy="369.24" r="1.3" fill="#111"/>
<circle cx="75.60" cy="373.22" r="1.3" fill="#111"/>
<circle cx="96.20" cy="369.69" r="1.3" fill="#111"/>
<circle cx="96.20" cy="371.16" r="1.3" fill="#111"/>
<circle cx="96.20" cy="372.48" r="1.3" fill="#111"/>
<circle cx="96.20" cy="373.66" r="1.3" fill="#111"/>
<text class="ss" x="54.60" y="382.30" font-size="4.3" text-anchor="middle" fill="#222" stroke="#222" stroke-width="0.1">PD-1<tspan dy="-1.29" font-size="2.67">+</tspan><tspan dy="1.29" font-size="0.43"> </tspan></text>
<text class="ss" x="75.60" y="382.30" font-size="4.3" text-anchor="middle" font-style="italic" fill="#222" stroke="#222" stroke-width="0.1">Foxp3<tspan dy="-1.29" font-size="2.67">+</tspan><tspan dy="1.29" font-size="0.43"> </tspan></text>
<text class="ss" x="97.00" y="381.00" font-size="4.3" text-anchor="middle" fill="#222" stroke="#222" stroke-width="0.1">PD-1<tspan dy="-1.29" font-size="2.67">+</tspan><tspan dy="1.29" font-size="0.43"> </tspan> and</text>
<text class="ss" x="97.00" y="385.30" font-size="4.3" text-anchor="middle" font-style="italic" fill="#222" stroke="#222" stroke-width="0.1">Foxp3<tspan dy="-1.29" font-size="2.67">+</tspan><tspan dy="1.29" font-size="0.43"> </tspan></text>
<path d="M42.3 428.2h.01M42.4 426.9h.01M39.9 427.1h.01M47.2 428.0h.01M46.9 427.8h.01M44.6 427.7h.01M37.2 428.7h.01M45.0 428.1h.01M37.1 424.8h.01M40.0 426.7h.01M44.3 427.3h.01M45.1 426.4h.01M44.3 428.0h.01M40.8 430.0h.01M45.2 429.2h.01M41.0 426.3h.01M42.0 427.2h.01M45.5 427.8h.01M41.6 426.0h.01M41.3 429.2h.01M40.3 427.8h.01M44.7 425.2h.01M43.4 429.4h.01M35.9 426.9h.01M42.8 426.2h.01M45.0 427.3h.01M37.9 428.6h.01M45.6 428.8h.01M48.4 427.9h.01M43.6 425.5h.01M45.4 426.5h.01M41.6 425.5h.01M39.7 426.6h.01M47.8 424.4h.01M38.0 427.8h.01M48.4 428.3h.01M36.4 423.6h.01M44.5 426.3h.01M39.2 428.9h.01M47.2 427.6h.01M44.1 428.1h.01M48.9 428.3h.01M45.1 428.2h.01M37.6 429.3h.01M46.6 428.2h.01M36.1 426.4h.01M46.2 424.7h.01M42.5 428.9h.01M38.5 429.8h.01M45.2 427.2h.01M44.4 428.4h.01M43.6 429.1h.01M40.8 426.8h.01M47.0 427.4h.01M40.0 428.8h.01M48.5 426.7h.01M38.2 427.2h.01M42.7 427.0h.01M48.3 425.9h.01M47.7 425.5h.01M40.4 428.3h.01M47.3 428.7h.01M44.4 427.6h.01M43.7 428.3h.01M42.6 427.8h.01M45.3 427.4h.01M46.0 428.2h.01M50.4 427.9h.01M41.7 426.8h.01M43.2 428.8h.01M42.0 428.0h.01M49.8 423.6h.01M39.2 427.8h.01M44.6 427.8h.01M41.6 428.4h.01M44.2 426.6h.01M51.9 427.9h.01M41.2 427.3h.01M42.4 427.3h.01M33.4 426.7h.01M46.8 425.6h.01M43.0 428.8h.01M46.3 429.6h.01M37.1 426.9h.01M42.0 428.3h.01M47.1 423.4h.01M47.1 425.2h.01M45.7 425.2h.01M43.8 429.2h.01M42.7 427.7h.01M46.1 427.6h.01M42.9 429.7h.01M47.0 427.0h.01M53.1 425.7h.01M46.5 427.0h.01M43.7 428.5h.01M44.0 428.4h.01M37.7 425.1h.01M45.4 426.0h.01M39.5 425.2h.01M47.8 428.5h.01M48.5 426.0h.01M43.2 425.7h.01M46.0 429.8h.01M40.0 429.7h.01M46.8 427.1h.01M36.1 429.5h.01M42.9 426.5h.01M44.6 428.0h.01M48.6 425.9h.01M47.3 429.6h.01M48.4 427.1h.01M40.5 428.9h.01M43.6 427.6h.01M48.3 427.0h.01M34.9 426.8h.01M36.5 428.6h.01M44.3 426.5h.01M43.2 428.6h.01M43.5 429.4h.01M43.0 429.0h.01M48.6 429.8h.01M40.8 428.7h.01M36.4 425.8h.01M36.1 429.0h.01M38.8 427.4h.01M42.5 427.4h.01M41.1 427.8h.01M49.6 427.5h.01M45.1 428.9h.01M42.5 425.5h.01M41.2 429.0h.01M37.3 426.5h.01M46.8 428.6h.01M43.2 428.6h.01M43.8 425.6h.01M37.6 426.4h.01M46.5 426.6h.01M40.0 426.2h.01M37.7 427.2h.01M39.0 427.9h.01M34.7 427.9h.01M40.9 424.5h.01M45.8 427.0h.01M35.2 426.1h.01M44.2 426.7h.01M46.0 428.5h.01M45.6 427.9h.01M48.0 428.4h.01M44.8 424.3h.01M46.4 429.4h.01M42.1 426.7h.01M50.2 424.8h.01M44.9 431.0h.01M39.9 428.4h.01M50.0 427.2h.01M45.2 428.8h.01M39.9 427.3h.01M44.3 428.6h.01M43.1 427.1h.01M39.5 426.9h.01M46.4 427.6h.01M40.1 426.1h.01M52.8 429.1h.01M45.5 423.5h.01M45.4 428.1h.01M49.3 428.0h.01M43.0 428.2h.01M36.2 428.9h.01M44.4 426.3h.01M48.0 430.1h.01M38.2 426.4h.01M44.2 427.7h.01M41.8 425.9h.01M50.8 429.0h.01M38.9 425.4h.01M49.3 428.9h.01M49.8 428.6h.01M40.1 427.8h.01M35.4 426.3h.01M43.0 428.2h.01M40.6 427.2h.01M44.9 428.0h.01M45.5 427.7h.01M42.0 428.6h.01M43.4 426.2h.01M40.9 427.4h.01M42.8 427.6h.01M43.2 427.7h.01M42.7 425.5h.01M44.7 429.0h.01M44.8 427.1h.01M44.8 426.0h.01M36.4 427.5h.01M39.9 428.5h.01M39.3 423.5h.01M39.5 429.8h.01M41.8 425.3h.01M40.5 428.2h.01M45.0 427.7h.01M48.5 428.5h.01M43.1 428.3h.01M49.2 428.9h.01M46.9 425.8h.01M42.7 428.5h.01M42.1 429.0h.01M45.3 428.8h.01M42.4 431.2h.01M47.7 427.1h.01M43.5 431.3h.01M42.0 428.7h.01M46.7 427.4h.01M39.0 427.7h.01M44.5 429.1h.01M46.0 427.4h.01M46.3 428.2h.01M43.9 427.5h.01M42.3 428.4h.01M39.4 426.5h.01M43.2 425.2h.01M41.6 424.4h.01M40.7 428.3h.01M45.2 427.3h.01M42.4 425.3h.01M49.8 428.2h.01M47.1 426.1h.01M42.5 424.7h.01M46.0 428.8h.01M36.4 427.3h.01M45.5 424.8h.01M36.6 425.8h.01M40.9 425.3h.01M43.3 427.8h.01M45.5 428.5h.01M48.6 429.1h.01M38.5 426.6h.01M39.4 425.8h.01M42.9 427.4h.01M45.0 425.0h.01M38.7 427.4h.01M42.5 426.9h.01M43.0 426.3h.01M45.7 427.9h.01M42.9 426.4h.01M42.6 423.3h.01M39.7 427.5h.01M37.8 427.7h.01M43.7 425.3h.01M42.3 426.9h.01M44.9 428.3h.01M43.1 426.1h.01M42.7 427.3h.01M45.8 427.8h.01M40.6 425.4h.01M41.9 426.3h.01M39.2 427.2h.01M41.4 427.6h.01M45.1 426.8h.01M51.6 426.9h.01M47.2 427.6h.01M47.2 423.8h.01M40.5 427.8h.01M45.4 430.9h.01M44.4 429.3h.01M46.0 428.8h.01M45.0 427.2h.01M45.0 425.8h.01M47.5 425.9h.01M44.1 430.6h.01M42.4 427.4h.01M47.4 427.4h.01M40.3 427.8h.01M45.3 428.5h.01M40.4 430.0h.01M49.2 427.4h.01M44.2 426.8h.01M48.3 426.3h.01M45.6 426.7h.01M40.7 428.5h.01M48.0 427.4h.01M40.8 428.6h.01M43.0 427.9h.01M48.7 429.1h.01M41.3 430.8h.01M43.2 428.6h.01M40.9 427.3h.01M36.9 430.1h.01M48.1 425.6h.01M37.8 425.0h.01M47.4 426.7h.01M43.0 426.9h.01M42.8 425.8h.01M43.3 425.2h.01M42.9 427.9h.01M44.9 427.1h.01M39.9 427.6h.01M41.5 429.7h.01M46.0 427.2h.01M41.5 426.3h.01M39.8 426.9h.01M44.3 428.2h.01M45.2 430.5h.01M40.7 427.4h.01M53.3 424.6h.01M41.3 427.7h.01M43.8 428.0h.01M42.3 427.9h.01M43.4 428.6h.01M36.4 426.1h.01M43.2 425.9h.01M39.4 428.3h.01M40.9 428.4h.01M45.9 427.9h.01M45.0 427.2h.01M38.1 427.4h.01M44.8 426.6h.01M42.8 428.5h.01M40.0 428.4h.01M49.9 426.6h.01M43.7 427.2h.01M48.7 427.9h.01M46.4 426.4h.01M43.1 427.4h.01M36.8 429.6h.01M46.4 424.8h.01M45.9 427.2h.01M44.8 427.9h.01M37.8 427.1h.01M48.6 426.5h.01M39.5 425.4h.01M38.8 427.9h.01M49.3 428.0h.01M44.1 430.8h.01M41.3 426.4h.01M45.1 428.2h.01M39.5 425.6h.01M44.2 427.8h.01M38.5 427.1h.01M41.2 428.1h.01M42.8 427.3h.01M41.9 429.0h.01M48.2 426.8h.01M46.2 426.3h.01M43.5 428.5h.01M48.7 426.8h.01M42.9 427.7h.01M37.8 427.4h.01M40.8 428.0h.01M39.1 424.4h.01M43.3 427.8h.01M41.2 428.7h.01M42.2 426.5h.01M44.9 425.0h.01M40.8 427.4h.01M46.3 427.2h.01M44.3 426.4h.01M44.3 429.9h.01M40.7 430.9h.01M40.9 427.4h.01M43.8 428.9h.01M38.7 424.2h.01M45.4 428.6h.01M45.4 431.3h.01M43.9 427.8h.01M46.5 428.0h.01M49.2 425.5h.01M41.8 422.2h.01M46.1 426.8h.01M46.5 430.6h.01M43.2 427.0h.01M41.4 426.1h.01M40.9 428.4h.01M43.3 427.5h.01M42.6 428.8h.01M45.0 427.2h.01M45.6 427.2h.01M39.0 429.6h.01M44.9 426.0h.01M47.1 427.9h.01M37.6 429.8h.01M44.4 428.7h.01M43.9 427.2h.01M37.6 428.9h.01M43.3 427.0h.01M44.5 427.5h.01M45.6 426.8h.01M43.1 424.2h.01M41.7 428.4h.01M48.0 426.9h.01M42.8 429.8h.01M42.0 428.5h.01M49.2 427.5h.01M47.6 426.3h.01M43.9 427.3h.01M43.6 429.1h.01M51.8 426.4h.01M41.1 428.1h.01M39.4 428.1h.01M45.3 427.0h.01M45.1 425.1h.01M45.9 425.1h.01M40.7 426.6h.01M41.8 428.7h.01M43.5 426.8h.01M45.2 429.8h.01M43.2 427.9h.01M47.7 427.8h.01M38.6 431.1h.01M51.2 424.4h.01M43.1 428.0h.01M46.7 428.4h.01M42.2 425.8h.01M43.6 429.0h.01M39.3 425.9h.01M43.1 424.5h.01M42.3 426.7h.01M44.8 426.3h.01M40.0 426.8h.01M43.0 426.4h.01M43.2 428.5h.01M47.5 430.0h.01M40.4 426.8h.01M34.3 430.2h.01M40.6 427.3h.01M45.1 425.4h.01M44.9 427.4h.01M36.6 427.8h.01M47.5 424.6h.01M46.1 427.7h.01M44.9 428.1h.01M47.9 427.1h.01M46.3 426.8h.01M45.8 426.2h.01M42.8 430.0h.01M44.8 427.2h.01M39.1 426.2h.01M43.9 428.8h.01M44.7 428.2h.01M43.0 429.4h.01M41.8 426.6h.01M46.4 427.5h.01M42.2 426.5h.01M42.3 428.3h.01M44.5 425.6h.01M44.7 427.7h.01M39.6 428.6h.01M42.2 426.9h.01M46.1 429.4h.01M40.7 428.1h.01M40.0 430.9h.01M41.4 429.2h.01M40.9 428.6h.01M51.2 423.6h.01M41.6 428.2h.01M42.9 426.4h.01M50.9 427.5h.01M37.3 428.7h.01M37.0 429.1h.01M41.1 427.6h.01M47.7 427.6h.01M38.2 424.9h.01M47.5 428.5h.01M40.3 428.7h.01M45.0 428.4h.01M35.1 426.9h.01M46.4 428.5h.01M46.4 423.7h.01M43.8 428.1h.01M52.4 426.0h.01M42.0 427.5h.01M46.4 426.7h.01M47.3 426.2h.01M44.2 426.6h.01M43.8 426.4h.01M37.4 429.0h.01M44.3 426.6h.01M43.9 428.9h.01M39.7 427.2h.01M45.1 428.2h.01M42.0 424.2h.01M47.7 427.9h.01M43.2 427.0h.01M44.1 426.8h.01M39.5 426.3h.01M41.1 426.5h.01M39.0 428.4h.01M38.5 428.4h.01M39.5 427.9h.01M48.1 427.7h.01M40.6 427.5h.01M43.7 424.8h.01M41.0 427.6h.01M41.5 427.5h.01M45.8 428.5h.01M46.5 428.3h.01M42.2 427.4h.01M42.2 426.9h.01M42.6 424.8h.01M42.0 427.4h.01M39.7 427.4h.01M45.1 427.2h.01M50.7 423.5h.01M42.5 424.7h.01M46.7 431.4h.01M34.2 427.6h.01M45.1 426.9h.01M45.2 424.0h.01M46.3 428.0h.01M43.3 426.5h.01M45.5 426.7h.01M44.0 426.6h.01M35.1 427.4h.01M43.9 428.5h.01M40.0 427.4h.01M45.4 427.6h.01M47.7 430.4h.01M39.9 424.5h.01M46.3 429.7h.01M46.5 428.6h.01M41.0 426.3h.01" stroke="#111" stroke-opacity="0.75" stroke-width="0.64" stroke-linecap="round" fill="none"/>
<path d="M49.4 424.5h.01M30.5 424.2h.01M60.6 433.6h.01M38.4 425.1h.01M44.8 425.0h.01M52.4 427.1h.01M35.6 431.6h.01M39.1 428.1h.01M43.1 426.4h.01M45.5 425.2h.01M30.3 420.3h.01M34.3 425.0h.01M43.0 427.6h.01M47.1 427.8h.01M37.6 425.1h.01M28.4 426.9h.01M46.6 429.1h.01M42.4 426.8h.01M49.8 427.4h.01M48.4 429.3h.01M44.7 431.6h.01M39.2 426.3h.01M37.5 424.8h.01M54.1 433.0h.01M43.4 429.2h.01M51.4 430.0h.01M51.6 423.4h.01M38.7 428.8h.01M53.2 427.7h.01M37.2 426.3h.01M38.6 424.7h.01M53.7 425.4h.01M43.3 434.3h.01M51.5 428.5h.01M38.9 428.7h.01M54.6 429.4h.01M52.0 427.7h.01M46.8 426.8h.01M46.2 431.6h.01M33.2 427.2h.01M44.9 425.6h.01M41.0 429.9h.01M57.2 429.4h.01M45.5 422.4h.01M56.7 427.6h.01M43.0 423.8h.01M42.8 423.9h.01M43.7 428.9h.01M43.4 428.3h.01M37.2 432.0h.01M38.6 421.6h.01M41.9 425.0h.01M36.1 426.3h.01M45.2 423.6h.01M42.2 432.0h.01M48.0 426.9h.01M44.1 427.0h.01M42.9 429.7h.01M42.6 419.7h.01M43.0 424.6h.01M47.8 425.4h.01M44.2 434.4h.01M35.9 423.8h.01M33.3 419.7h.01M30.1 428.6h.01M38.7 421.4h.01M32.8 429.4h.01M37.8 426.2h.01M45.5 431.7h.01M56.8 430.7h.01M44.2 428.0h.01M55.8 432.0h.01M41.0 428.9h.01M45.2 427.6h.01M39.7 423.2h.01M39.5 422.5h.01M51.8 429.1h.01M34.8 431.9h.01M49.4 421.3h.01M56.1 430.0h.01M57.6 423.5h.01M46.9 428.8h.01M44.6 427.9h.01M50.6 422.6h.01M34.5 422.9h.01M39.3 425.5h.01M45.8 428.3h.01M43.4 425.2h.01M40.1 430.4h.01M48.5 427.7h.01M40.9 432.4h.01M39.0 429.5h.01M51.3 426.6h.01M49.0 423.8h.01M50.3 428.0h.01M32.1 429.5h.01M37.0 431.5h.01M38.4 426.9h.01M45.2 426.3h.01M45.0 425.6h.01M47.9 427.4h.01M44.7 418.6h.01M51.3 427.5h.01M30.7 427.7h.01M46.5 430.8h.01M35.6 432.4h.01M42.1 435.1h.01M42.2 429.6h.01M40.6 423.8h.01M50.9 430.3h.01M54.0 430.1h.01M39.2 422.1h.01M38.6 425.2h.01M37.5 429.3h.01M45.5 426.5h.01M44.4 426.9h.01M44.7 429.8h.01M49.9 425.2h.01M32.7 432.0h.01M44.0 430.9h.01M31.7 426.3h.01M43.4 422.8h.01M39.6 429.7h.01M50.7 432.5h.01M37.2 422.9h.01M46.8 430.4h.01M44.6 423.2h.01M48.7 429.9h.01M47.1 425.8h.01M45.3 429.9h.01M39.3 421.5h.01M45.5 428.9h.01M43.3 430.2h.01M39.1 427.1h.01M41.1 429.2h.01M54.4 426.6h.01M57.6 432.3h.01M48.7 429.3h.01M55.6 426.8h.01M42.4 424.0h.01M46.5 431.7h.01M46.9 428.8h.01M41.8 427.9h.01M33.2 430.8h.01M40.3 423.9h.01M37.9 424.8h.01M49.2 430.8h.01M33.7 430.4h.01M49.4 425.5h.01M32.8 425.0h.01M38.8 428.5h.01M40.7 420.9h.01M44.8 422.5h.01M49.5 423.5h.01M38.3 424.7h.01M39.4 431.6h.01M49.2 429.3h.01M45.4 422.4h.01M39.6 425.6h.01M36.4 429.0h.01" stroke="#111" stroke-opacity="0.55" stroke-width="0.5" stroke-linecap="round" fill="none"/>
<path d="M107.8 425.8h.01M106.6 423.5h.01M112.9 429.3h.01M111.3 425.3h.01M100.3 427.3h.01M115.2 427.5h.01M114.1 429.5h.01M114.9 426.2h.01M114.6 428.3h.01M104.8 426.3h.01M105.2 426.8h.01M112.8 425.2h.01M102.8 429.2h.01M112.0 429.5h.01M105.6 428.8h.01M118.5 430.4h.01M109.8 427.5h.01M110.0 428.7h.01M114.5 427.1h.01M105.4 428.3h.01M108.8 428.1h.01M111.6 429.8h.01M114.9 426.2h.01M111.9 430.0h.01M108.6 427.7h.01M115.1 429.1h.01M112.6 424.8h.01M105.8 427.4h.01M112.1 431.3h.01M107.3 428.9h.01M113.5 424.2h.01M107.5 427.3h.01M108.7 426.7h.01M112.4 425.6h.01M112.4 425.9h.01M108.5 427.9h.01M108.4 427.5h.01M116.7 427.0h.01M110.0 428.2h.01M109.2 428.8h.01M105.7 428.1h.01M108.7 425.6h.01M117.3 425.6h.01M117.3 428.1h.01M116.1 425.3h.01M115.2 429.5h.01M110.2 426.8h.01M119.9 427.3h.01M109.0 425.9h.01M112.3 427.6h.01M111.3 429.9h.01M109.4 427.8h.01M116.1 425.3h.01M114.5 430.1h.01M105.5 425.1h.01M106.7 423.9h.01M112.3 423.8h.01M112.5 429.5h.01M104.5 426.5h.01M103.3 428.3h.01M107.8 426.5h.01M110.8 427.9h.01M109.3 427.0h.01M108.5 427.2h.01M106.1 427.1h.01M103.3 426.2h.01M117.9 427.1h.01M105.8 427.4h.01M106.9 424.2h.01M107.8 428.3h.01M112.1 426.8h.01M107.1 425.2h.01M115.7 427.4h.01M107.0 423.4h.01M105.4 431.2h.01M106.2 426.9h.01M111.4 426.7h.01M109.5 424.7h.01M106.6 429.9h.01M107.7 428.4h.01M104.2 426.5h.01M111.6 428.8h.01M106.3 428.0h.01M112.1 425.7h.01M112.4 425.5h.01M107.6 427.0h.01M100.3 426.8h.01M106.8 424.5h.01M109.0 428.3h.01M109.1 429.2h.01M106.2 424.8h.01M116.5 427.7h.01M114.2 425.6h.01M113.7 427.4h.01M113.1 427.0h.01M115.2 425.9h.01M106.9 424.5h.01M115.0 425.7h.01M106.6 425.4h.01M108.9 424.8h.01M109.5 425.9h.01M108.5 425.4h.01M110.7 426.2h.01M111.0 427.4h.01M111.9 423.3h.01M108.6 425.6h.01M113.5 424.3h.01M107.9 426.5h.01M109.3 428.7h.01M108.9 428.6h.01M105.0 423.9h.01M115.2 427.7h.01M112.5 427.2h.01M112.4 424.9h.01M114.2 426.1h.01M114.3 427.1h.01M103.1 424.8h.01M114.9 426.8h.01M109.1 427.4h.01M109.0 426.1h.01M111.0 427.2h.01M116.4 427.1h.01M117.7 430.1h.01M117.1 428.8h.01M111.1 427.2h.01M110.1 425.8h.01M110.3 425.9h.01M116.8 427.9h.01M108.9 423.7h.01M110.4 426.3h.01M106.5 425.1h.01M102.0 428.0h.01M110.4 431.4h.01M110.5 426.7h.01M116.1 427.2h.01M111.2 426.4h.01M108.3 429.5h.01M114.4 429.9h.01M109.3 427.1h.01M107.3 428.6h.01M105.3 428.0h.01M114.8 429.4h.01M107.0 428.9h.01M107.9 425.7h.01M105.6 429.0h.01M116.9 426.0h.01M107.7 426.4h.01M120.1 428.7h.01M108.5 423.9h.01M108.0 429.0h.01M117.7 426.5h.01M108.0 426.1h.01M103.4 428.5h.01M106.5 428.8h.01M104.1 424.8h.01M111.7 425.7h.01M113.6 427.0h.01M106.1 428.1h.01M113.8 423.7h.01M117.5 427.8h.01M113.5 423.8h.01M107.9 426.4h.01M114.7 424.5h.01M107.2 423.5h.01M109.7 427.6h.01M104.2 426.0h.01M112.5 429.7h.01M113.1 426.5h.01M106.1 425.4h.01M108.1 427.2h.01M110.4 429.8h.01M111.7 425.2h.01M116.5 428.6h.01M111.0 425.8h.01M103.5 425.3h.01M114.1 425.6h.01M105.6 427.3h.01M111.5 428.0h.01M113.1 429.4h.01M107.4 428.7h.01M106.8 428.2h.01M111.3 427.4h.01M114.3 427.0h.01M114.8 428.5h.01M111.1 426.0h.01M107.7 426.1h.01M109.8 427.0h.01M121.9 428.1h.01M113.5 425.5h.01M107.9 426.5h.01M111.3 425.2h.01M116.7 426.0h.01M114.7 423.0h.01M110.6 427.5h.01M111.3 428.0h.01M111.7 427.3h.01M103.4 425.8h.01M101.7 428.1h.01M111.8 426.7h.01M107.5 426.0h.01M117.6 429.9h.01M110.4 429.2h.01M104.6 423.7h.01M108.8 425.5h.01M108.5 427.3h.01M122.1 425.9h.01M110.8 427.5h.01M110.5 428.6h.01M117.3 424.9h.01M111.2 426.5h.01M112.0 424.4h.01M103.9 423.1h.01M112.6 427.3h.01M110.9 423.0h.01M109.2 425.7h.01M105.2 425.4h.01M113.3 427.9h.01M110.5 427.9h.01M108.3 427.1h.01M110.8 427.9h.01M110.3 426.8h.01M110.1 425.9h.01M119.1 427.9h.01M112.2 430.9h.01M115.9 424.4h.01M113.2 428.4h.01M117.8 429.2h.01M113.5 425.0h.01M107.3 427.5h.01M112.5 425.3h.01M109.1 426.3h.01M110.8 427.6h.01M109.5 424.9h.01M115.3 429.7h.01M110.2 428.7h.01M112.3 428.1h.01M112.4 425.7h.01M112.8 428.7h.01M107.2 430.3h.01M118.5 430.1h.01M118.2 428.3h.01M109.3 426.0h.01M107.5 427.2h.01M110.5 428.1h.01M102.9 430.9h.01M119.3 427.0h.01M113.2 427.8h.01M111.6 426.6h.01M110.1 425.6h.01M111.3 427.0h.01M111.8 425.5h.01M110.8 427.1h.01M112.9 425.2h.01M112.2 428.7h.01M112.9 426.4h.01M108.7 426.6h.01M113.4 429.6h.01M110.0 425.9h.01M112.0 427.3h.01M107.1 425.7h.01M110.2 428.1h.01M106.1 425.3h.01M112.5 424.9h.01M111.0 427.6h.01M110.2 425.3h.01M110.4 426.4h.01M111.9 425.6h.01M114.7 424.2h.01M109.9 427.0h.01M114.3 426.0h.01M112.7 426.0h.01M113.4 430.0h.01M109.1 427.8h.01M107.1 428.7h.01M115.2 427.1h.01M106.3 427.7h.01M115.0 428.9h.01M113.7 423.9h.01M108.0 429.4h.01M105.9 428.9h.01M117.8 428.3h.01M114.9 426.4h.01M105.9 426.8h.01M109.8 426.9h.01M113.2 426.8h.01M111.3 427.7h.01M110.6 430.1h.01M112.3 427.1h.01M109.8 425.9h.01M115.7 427.3h.01M106.5 426.0h.01M110.1 426.2h.01M114.7 425.0h.01M112.5 427.2h.01M106.1 427.1h.01M110.2 427.9h.01M108.9 427.5h.01M104.3 425.2h.01M113.6 428.8h.01M110.6 426.0h.01M114.7 423.4h.01M107.6 428.1h.01M113.1 425.2h.01M103.4 429.5h.01M111.2 425.5h.01M110.8 428.5h.01M100.8 428.9h.01M113.4 423.5h.01M113.5 424.0h.01M114.9 427.7h.01M119.2 426.0h.01M110.6 428.8h.01M108.2 425.8h.01M109.2 426.9h.01M106.5 427.8h.01M112.7 427.1h.01M117.1 426.4h.01M115.6 426.1h.01M113.5 423.7h.01M111.4 426.7h.01M108.7 426.0h.01M109.3 425.8h.01M102.3 426.0h.01M108.5 426.1h.01M106.6 426.8h.01M113.6 426.6h.01M108.7 429.3h.01M114.3 428.6h.01M115.0 426.4h.01M110.1 428.9h.01M108.5 426.8h.01M112.0 427.6h.01M109.5 428.7h.01M109.9 428.2h.01M114.7 428.1h.01M113.4 425.0h.01M105.6 425.9h.01M112.4 429.6h.01M106.0 427.5h.01M107.4 425.8h.01M109.5 428.2h.01M111.4 429.0h.01M106.9 428.5h.01M114.1 427.1h.01M112.4 426.0h.01M106.5 426.3h.01M108.2 431.9h.01M108.8 429.8h.01M111.4 427.5h.01M113.4 425.7h.01M114.1 427.6h.01M104.8 428.0h.01M112.7 427.8h.01M116.6 426.3h.01M112.5 428.3h.01M107.2 429.0h.01M105.1 424.8h.01M112.6 425.1h.01M110.2 424.2h.01M110.9 425.1h.01M111.9 424.4h.01M112.3 426.5h.01M110.8 426.9h.01M111.1 424.8h.01M100.9 427.1h.01M107.0 426.2h.01M112.2 423.6h.01M107.7 426.0h.01M106.6 427.6h.01M110.1 425.6h.01M106.9 428.4h.01M108.1 428.0h.01M112.3 423.8h.01M106.5 427.0h.01M111.9 428.3h.01M113.6 428.8h.01M109.2 426.6h.01M113.5 426.3h.01M114.6 424.3h.01M113.1 426.7h.01M103.1 428.7h.01M111.8 427.0h.01M106.5 426.2h.01M116.3 425.6h.01M97.4 425.5h.01M106.0 426.8h.01M109.1 425.4h.01M107.4 428.8h.01M105.1 430.3h.01M108.5 425.1h.01M113.6 428.0h.01M106.6 428.3h.01M103.6 425.4h.01M114.9 426.6h.01M105.7 427.9h.01M114.1 427.0h.01M103.7 426.4h.01M112.2 428.3h.01M117.6 426.6h.01M108.8 426.9h.01M115.2 425.4h.01M115.6 422.3h.01M113.6 425.9h.01M112.3 428.2h.01M106.1 426.9h.01M111.5 428.0h.01M107.1 425.3h.01M103.3 431.3h.01M109.9 426.6h.01M104.9 428.6h.01M108.6 429.4h.01M113.8 427.0h.01M113.4 425.1h.01M109.4 426.0h.01M105.8 427.0h.01M110.0 429.4h.01M97.9 425.9h.01M107.1 426.2h.01M112.2 427.7h.01M110.7 426.2h.01M112.5 427.6h.01M103.6 426.6h.01M105.4 425.0h.01M111.2 427.1h.01M111.0 425.5h.01M109.8 425.4h.01M112.1 428.2h.01M117.3 429.2h.01M107.5 426.2h.01M107.0 427.5h.01M118.1 428.2h.01M102.2 424.9h.01M105.7 427.9h.01M110.6 427.5h.01M117.4 425.6h.01M107.4 430.3h.01M111.9 425.7h.01M102.9 424.4h.01M101.3 427.1h.01M110.8 428.7h.01M110.1 425.8h.01M107.8 430.2h.01M103.9 427.3h.01M110.7 428.0h.01M109.1 427.8h.01M113.7 426.7h.01M108.9 426.7h.01M106.9 426.6h.01M109.5 427.4h.01M115.7 429.2h.01M108.9 428.0h.01M111.7 428.3h.01M110.7 427.5h.01M108.8 425.7h.01M113.9 429.2h.01M113.1 427.7h.01M111.6 426.2h.01M103.8 428.1h.01M111.4 426.1h.01M106.9 429.2h.01M103.7 430.0h.01M113.0 431.0h.01M107.9 427.0h.01M108.7 427.3h.01M109.8 425.7h.01M114.7 425.7h.01M108.7 427.9h.01M108.6 426.3h.01M112.0 426.4h.01M105.9 426.8h.01M109.8 429.9h.01M106.4 428.6h.01M107.6 426.4h.01M109.4 427.5h.01M113.9 430.0h.01M108.2 429.3h.01M114.4 428.4h.01M107.7 428.5h.01M110.2 427.6h.01M109.6 428.1h.01M114.8 428.9h.01M109.8 428.7h.01M116.1 425.4h.01M116.2 424.7h.01M112.7 428.0h.01M116.2 427.5h.01M108.8 425.6h.01M105.8 428.3h.01M109.7 425.8h.01M112.6 425.7h.01M108.9 426.2h.01M116.9 429.5h.01M110.0 424.3h.01M111.7 427.1h.01M111.9 428.0h.01M109.4 428.6h.01M113.8 427.4h.01M109.1 426.2h.01M113.2 425.1h.01M110.0 425.7h.01M105.3 428.0h.01M110.5 427.1h.01M113.9 424.5h.01M110.3 427.5h.01M113.8 425.2h.01M113.3 427.4h.01M115.8 428.9h.01M112.7 430.7h.01M110.6 426.3h.01M109.3 425.4h.01M110.5 423.8h.01M110.3 427.7h.01M114.4 426.4h.01M115.9 425.9h.01M110.1 423.8h.01M107.7 425.7h.01M116.1 427.9h.01M106.5 427.9h.01M112.4 426.6h.01M110.7 426.5h.01" stroke="#111" stroke-opacity="0.75" stroke-width="0.64" stroke-linecap="round" fill="none"/>
<path d="M108.1 421.1h.01M110.9 433.0h.01M120.6 426.9h.01M106.8 427.2h.01M117.2 429.4h.01M107.8 429.4h.01M110.2 430.0h.01M108.9 422.3h.01M111.9 431.0h.01M104.5 427.6h.01M117.1 426.5h.01M107.4 435.9h.01M116.8 432.0h.01M105.5 434.4h.01M101.0 426.0h.01M116.2 433.2h.01M105.6 425.4h.01M112.7 420.5h.01M115.5 430.2h.01M108.7 430.1h.01M116.4 429.2h.01M114.8 433.9h.01M108.5 428.6h.01M108.2 432.0h.01M108.9 429.8h.01M112.4 428.3h.01M122.3 427.7h.01M120.4 431.2h.01M119.8 427.4h.01M117.3 430.9h.01M107.6 429.0h.01M110.7 427.9h.01M119.7 425.2h.01M100.9 421.3h.01M108.7 425.5h.01M111.6 430.2h.01M122.5 429.2h.01M114.4 425.2h.01M115.1 433.2h.01M119.9 420.5h.01M117.1 434.1h.01M116.7 422.2h.01M109.6 430.3h.01M114.1 424.9h.01M105.9 431.7h.01M103.1 433.5h.01M111.6 429.2h.01M103.2 425.7h.01M115.8 422.3h.01M124.5 422.6h.01M103.9 428.2h.01M114.5 430.8h.01M109.2 427.2h.01M110.0 425.8h.01M95.4 431.7h.01M113.1 428.6h.01M107.6 429.0h.01M111.4 427.7h.01M118.4 421.4h.01M113.1 423.9h.01M109.5 433.8h.01M104.7 427.6h.01M107.8 431.6h.01M105.4 421.5h.01M114.7 426.6h.01M109.5 432.2h.01M106.0 426.6h.01M112.4 429.6h.01M108.3 432.0h.01M125.5 426.4h.01M123.2 419.9h.01M120.3 426.7h.01M112.4 426.7h.01M107.5 423.1h.01M109.0 433.0h.01M118.6 426.7h.01M108.2 425.3h.01M104.0 434.9h.01M115.6 428.5h.01M108.4 424.1h.01M119.7 431.0h.01M105.6 431.8h.01M104.6 430.5h.01M105.5 426.4h.01M114.6 429.7h.01M117.8 424.8h.01M121.4 433.2h.01M111.4 429.8h.01M106.6 427.4h.01M103.3 428.3h.01M112.7 433.2h.01M117.4 431.1h.01M109.2 427.1h.01M109.4 428.9h.01M99.5 431.0h.01M101.7 426.0h.01M111.6 426.0h.01M121.9 427.6h.01M121.3 432.5h.01M108.4 429.5h.01M119.6 426.7h.01M112.1 425.9h.01M111.9 426.6h.01M112.0 431.8h.01M120.2 428.5h.01M112.8 431.3h.01M109.7 423.9h.01M118.4 424.4h.01M117.3 424.3h.01M122.9 424.0h.01M116.8 433.8h.01M105.5 433.7h.01M106.4 421.2h.01M116.0 430.7h.01M110.2 418.3h.01M111.2 426.8h.01M109.1 426.9h.01M100.3 425.8h.01M122.7 433.9h.01M109.2 425.3h.01M114.0 432.1h.01M116.0 423.5h.01M112.5 428.5h.01M120.5 432.6h.01M114.8 432.7h.01M109.0 433.9h.01M108.8 429.5h.01M117.2 424.5h.01M107.1 421.2h.01M112.5 427.8h.01M109.5 429.9h.01M98.3 427.9h.01M112.0 427.0h.01M116.5 434.7h.01M108.7 424.4h.01M107.7 428.4h.01M115.2 424.7h.01M117.7 424.1h.01M116.7 429.6h.01M114.4 436.3h.01M109.9 427.4h.01M114.5 431.3h.01M103.1 429.1h.01M106.9 430.4h.01M120.0 428.2h.01M110.8 428.7h.01M93.1 431.0h.01M115.0 428.6h.01M109.0 425.2h.01M110.4 432.7h.01M110.9 433.2h.01M95.5 426.2h.01M113.2 427.9h.01M101.1 425.4h.01M119.3 423.0h.01M105.3 423.8h.01M108.1 430.5h.01M115.2 420.2h.01M120.6 425.7h.01M107.8 434.4h.01M111.0 423.2h.01M107.5 425.2h.01M105.2 426.7h.01M117.0 429.3h.01M102.9 438.7h.01M105.3 428.4h.01M111.7 430.9h.01M109.5 429.8h.01M124.6 428.4h.01M104.7 429.3h.01M106.5 426.6h.01M112.7 429.3h.01M109.7 431.3h.01M110.3 423.0h.01M117.0 426.6h.01M119.1 425.5h.01M115.1 429.2h.01M94.7 422.3h.01M104.5 433.4h.01M99.7 431.5h.01M118.3 429.9h.01M115.7 426.1h.01M111.4 428.9h.01M114.1 430.7h.01M110.2 425.3h.01M108.0 429.6h.01M101.1 423.2h.01M108.9 425.9h.01M109.8 417.8h.01M109.4 427.0h.01M116.3 420.4h.01M109.6 429.8h.01M114.6 432.6h.01M118.1 424.0h.01M115.5 426.7h.01M106.5 433.9h.01M107.6 424.7h.01M109.0 424.7h.01M117.8 429.5h.01M120.3 429.6h.01" stroke="#111" stroke-opacity="0.55" stroke-width="0.5" stroke-linecap="round" fill="none"/>
<path d="M106.4 417.0h.01M106.3 414.4h.01M107.1 415.3h.01M109.4 414.2h.01M108.0 415.2h.01M105.3 413.3h.01M107.0 415.9h.01M107.9 416.0h.01M107.5 414.4h.01M108.1 413.5h.01M105.2 414.6h.01M105.1 414.3h.01M106.2 414.2h.01M107.3 413.8h.01M106.7 412.2h.01M107.6 413.7h.01M108.1 410.3h.01M106.1 415.6h.01M103.4 414.6h.01M107.6 415.4h.01M104.9 415.6h.01M107.6 413.5h.01M108.6 415.1h.01M107.4 414.4h.01M108.3 415.4h.01M109.3 416.0h.01M106.4 414.8h.01M108.9 414.6h.01M108.0 416.1h.01M107.1 411.2h.01M107.6 415.6h.01M107.6 413.9h.01M109.4 415.0h.01M106.4 414.0h.01M108.0 413.3h.01M105.8 418.7h.01M109.6 417.0h.01M109.6 416.2h.01M104.6 417.3h.01M109.4 416.1h.01M104.2 417.4h.01M109.6 414.3h.01M107.6 416.6h.01M107.3 417.1h.01M107.5 416.4h.01M107.5 412.6h.01M105.8 420.7h.01M107.9 417.5h.01M109.3 418.2h.01M108.3 414.2h.01M107.4 411.9h.01M107.1 416.8h.01M103.8 415.5h.01M108.8 417.5h.01M105.9 414.1h.01M104.3 413.4h.01M108.3 418.8h.01M105.5 417.6h.01M108.1 414.3h.01M111.0 410.8h.01M107.3 415.6h.01M110.9 418.3h.01M111.1 415.4h.01M109.0 417.6h.01M108.2 415.8h.01M107.1 414.5h.01M105.4 418.6h.01M106.7 411.6h.01M107.8 415.1h.01M107.7 418.4h.01M107.2 414.7h.01M106.2 415.2h.01M106.7 415.6h.01M112.6 415.9h.01M106.0 418.6h.01M108.8 416.6h.01M108.6 416.6h.01M108.5 417.7h.01M109.1 417.6h.01M106.6 415.2h.01M106.2 416.9h.01M108.8 414.4h.01M108.4 419.8h.01M109.4 413.2h.01M107.2 416.3h.01M107.3 415.9h.01M109.4 415.8h.01M105.6 416.5h.01M107.2 415.4h.01M106.5 412.8h.01M105.3 414.6h.01M105.6 410.4h.01M109.3 413.2h.01M106.2 416.1h.01M103.4 417.6h.01M106.1 416.4h.01M106.6 415.7h.01M107.6 415.2h.01M104.4 412.6h.01M107.3 417.7h.01M106.5 416.1h.01M107.7 416.0h.01M109.0 412.6h.01M107.9 414.9h.01M106.9 413.7h.01M106.1 413.4h.01M105.6 419.6h.01M110.2 415.2h.01M108.6 413.5h.01M102.8 412.0h.01M107.6 417.7h.01M107.3 413.4h.01M107.0 413.5h.01M105.1 414.8h.01M106.7 413.8h.01M105.9 413.6h.01M107.8 417.6h.01M107.1 419.1h.01M104.7 415.7h.01M105.5 414.9h.01M107.6 416.2h.01M109.3 414.2h.01M105.3 414.9h.01M107.9 414.0h.01M108.9 418.2h.01M105.0 415.8h.01M109.1 411.8h.01M107.7 414.8h.01M105.0 417.5h.01M107.8 414.4h.01M108.1 416.3h.01M108.7 416.2h.01M108.1 413.1h.01M106.7 415.4h.01M102.8 418.9h.01M106.8 413.3h.01M104.4 415.6h.01M107.5 414.2h.01M106.7 413.6h.01M106.2 415.0h.01M106.3 416.4h.01M107.2 415.4h.01M108.1 417.4h.01M108.4 415.6h.01M107.1 413.8h.01M106.8 416.4h.01M107.8 414.5h.01M105.2 412.5h.01M107.9 417.0h.01M108.0 412.8h.01M107.0 415.6h.01M105.9 415.8h.01M107.1 413.7h.01M105.3 416.6h.01M108.0 413.6h.01M105.7 416.8h.01M108.4 414.7h.01M110.0 414.7h.01M105.7 417.1h.01M107.1 415.8h.01M107.5 413.4h.01M105.4 414.9h.01M109.7 413.4h.01M109.6 415.6h.01M105.6 415.7h.01M108.3 413.6h.01M103.9 415.8h.01M105.6 416.0h.01M104.2 415.0h.01M106.1 412.6h.01" stroke="#111" stroke-opacity="0.75" stroke-width="0.64" stroke-linecap="round" fill="none"/>
<path d="M107.7 418.8h.01M106.6 412.8h.01M109.2 410.3h.01M110.3 420.1h.01M114.2 421.9h.01M109.7 419.2h.01M108.6 412.2h.01M113.5 420.3h.01M107.5 413.0h.01M113.5 420.3h.01M104.5 420.9h.01M114.9 417.9h.01M109.9 416.2h.01M106.4 422.7h.01M119.0 418.5h.01M108.1 421.5h.01M107.5 421.2h.01M111.3 413.6h.01M104.9 417.7h.01M111.3 419.2h.01M112.7 412.0h.01M110.2 415.3h.01M108.8 419.4h.01M105.2 417.0h.01M104.5 419.2h.01M105.6 415.8h.01M109.2 415.1h.01M112.4 415.2h.01M111.4 419.2h.01M105.0 417.0h.01M105.7 416.4h.01M107.6 425.9h.01M107.1 424.8h.01M110.0 412.3h.01M100.7 421.0h.01M101.7 421.1h.01M112.0 419.7h.01M107.8 416.9h.01M109.4 416.7h.01M106.7 416.4h.01M112.5 415.3h.01M109.8 413.0h.01M106.1 412.0h.01M107.8 421.0h.01M109.5 415.9h.01M110.6 416.5h.01M109.8 419.2h.01M110.3 407.2h.01M104.1 421.4h.01M108.1 427.8h.01M107.7 415.6h.01M113.6 420.4h.01M114.9 420.2h.01M107.8 421.2h.01M105.8 416.1h.01M106.6 417.0h.01M111.1 415.9h.01M109.6 415.8h.01M111.5 406.0h.01M107.8 418.7h.01M104.8 422.4h.01M109.2 423.6h.01M111.8 420.8h.01M108.0 413.3h.01M107.8 416.0h.01M109.3 416.0h.01M118.8 411.1h.01M112.5 416.0h.01M107.7 422.0h.01M108.5 412.7h.01M109.9 417.2h.01M101.5 418.9h.01M104.9 414.8h.01M110.1 419.3h.01M107.5 427.4h.01M109.9 415.3h.01M109.3 417.5h.01M101.1 411.2h.01M103.8 427.0h.01M107.9 416.8h.01M106.6 422.3h.01M108.6 425.4h.01M111.2 425.1h.01M108.1 419.6h.01M107.0 417.3h.01M102.7 415.5h.01M105.3 415.2h.01M112.6 419.1h.01M112.6 421.7h.01M111.6 422.4h.01" stroke="#111" stroke-opacity="0.55" stroke-width="0.5" stroke-linecap="round" fill="none"/>
<rect x="24.80" y="394.50" width="50.10" height="49.40" fill="none" stroke="#555" stroke-width="0.6"/>
<line x1="44.40" y1="394.50" x2="44.40" y2="443.90" stroke="#555" stroke-width="0.6"/>
<line x1="24.80" y1="423.30" x2="74.90" y2="423.30" stroke="#555" stroke-width="0.6"/>
<line x1="24.80" y1="406.85" x2="25.70" y2="406.85" stroke="#555" stroke-width="0.4"/>
<line x1="37.33" y1="443.90" x2="37.33" y2="443.00" stroke="#555" stroke-width="0.4"/>
<line x1="24.80" y1="419.20" x2="25.70" y2="419.20" stroke="#555" stroke-width="0.4"/>
<line x1="49.85" y1="443.90" x2="49.85" y2="443.00" stroke="#555" stroke-width="0.4"/>
<line x1="24.80" y1="431.55" x2="25.70" y2="431.55" stroke="#555" stroke-width="0.4"/>
<line x1="62.38" y1="443.90" x2="62.38" y2="443.00" stroke="#555" stroke-width="0.4"/>
<rect x="89.50" y="394.50" width="50.20" height="49.40" fill="none" stroke="#555" stroke-width="0.6"/>
<line x1="112.40" y1="394.50" x2="112.40" y2="443.90" stroke="#555" stroke-width="0.6"/>
<line x1="89.50" y1="423.30" x2="139.70" y2="423.30" stroke="#555" stroke-width="0.6"/>
<line x1="89.50" y1="406.85" x2="90.40" y2="406.85" stroke="#555" stroke-width="0.4"/>
<line x1="102.05" y1="443.90" x2="102.05" y2="443.00" stroke="#555" stroke-width="0.4"/>
<line x1="89.50" y1="419.20" x2="90.40" y2="419.20" stroke="#555" stroke-width="0.4"/>
<line x1="114.60" y1="443.90" x2="114.60" y2="443.00" stroke="#555" stroke-width="0.4"/>
<line x1="89.50" y1="431.55" x2="90.40" y2="431.55" stroke="#555" stroke-width="0.4"/>
<line x1="127.15" y1="443.90" x2="127.15" y2="443.00" stroke="#555" stroke-width="0.4"/>
<line x1="16.80" y1="444.50" x2="16.80" y2="399.50" stroke="#111" stroke-width="0.7"/>
<polygon points="16.8,395.6 15.0,401.2 18.6,401.2" fill="#111"/>
<line x1="24.80" y1="451.00" x2="135.50" y2="451.00" stroke="#111" stroke-width="0.7"/>
<polygon points="139.9,451.0 134.0,449.2 134.0,452.8" fill="#111"/>
<text class="ss" transform="translate(13.60 420.50) rotate(-90)" font-size="4.3" text-anchor="middle" fill="#222" stroke="#222" stroke-width="0.1">Foxp3</text>
<text class="ss" x="81.80" y="457.40" font-size="4.3" text-anchor="middle" fill="#222" stroke="#222" stroke-width="0.1">PD-1</text>
<text class="ss" x="193.40" y="8.40" font-size="11.5" font-weight="bold" fill="#000" stroke="#000" stroke-width="0.15">D</text>
<text class="ss" x="193.00" y="16.90" font-size="7.0" fill="#111" stroke="#111" stroke-width="0.2">(pg/mL)</text>
<rect x="213.10" y="23.50" width="66.00" height="79.30" fill="none" stroke="#666" stroke-width="0.5"/>
<line x1="213.10" y1="102.80" x2="279.10" y2="102.80" stroke="#333" stroke-width="0.6"/>
<line x1="211.90" y1="102.80" x2="213.10" y2="102.80" stroke="#666" stroke-width="0.4"/>
<text class="ss" x="209.90" y="104.20" font-size="4.0" text-anchor="end" fill="#222" stroke="#222" stroke-width="0.1">0</text>
<line x1="211.90" y1="82.97" x2="213.10" y2="82.97" stroke="#666" stroke-width="0.4"/>
<text class="ss" x="209.90" y="84.38" font-size="4.0" text-anchor="end" fill="#222" stroke="#222" stroke-width="0.1">500</text>
<line x1="211.90" y1="63.15" x2="213.10" y2="63.15" stroke="#666" stroke-width="0.4"/>
<text class="ss" x="209.90" y="64.55" font-size="4.0" text-anchor="end" fill="#222" stroke="#222" stroke-width="0.1">1000</text>
<line x1="211.90" y1="43.32" x2="213.10" y2="43.32" stroke="#666" stroke-width="0.4"/>
<text class="ss" x="209.90" y="44.72" font-size="4.0" text-anchor="end" fill="#222" stroke="#222" stroke-width="0.1">1500</text>
<line x1="211.90" y1="23.50" x2="213.10" y2="23.50" stroke="#666" stroke-width="0.4"/>
<text class="ss" x="209.90" y="24.90" font-size="4.0" text-anchor="end" fill="#222" stroke="#222" stroke-width="0.1">2000</text>
<rect x="216.00" y="77.38" width="6.60" height="25.42" fill="#808080" stroke="#484848" stroke-width="0.6"/>
<path d="M219.30 76.39V77.38M218.00 76.39H220.60" stroke="#333" stroke-width="0.5" fill="none"/>
<rect x="229.05" y="42.14" width="6.60" height="60.66" fill="#808080" stroke="#484848" stroke-width="0.6"/>
<path d="M232.35 41.34V42.14M231.05 41.34H233.65" stroke="#333" stroke-width="0.5" fill="none"/>
<rect x="242.10" y="74.45" width="6.60" height="28.35" fill="#808080" stroke="#484848" stroke-width="0.6"/>
<path d="M245.40 71.48V77.42M244.10 71.48H246.70" stroke="#333" stroke-width="0.5" fill="none"/>
<rect x="255.15" y="79.68" width="6.60" height="23.12" fill="#808080" stroke="#484848" stroke-width="0.6"/>
<path d="M258.45 78.89V79.68M257.15 78.89H259.75" stroke="#333" stroke-width="0.5" fill="none"/>
<rect x="268.20" y="37.34" width="6.60" height="65.46" fill="#808080" stroke="#484848" stroke-width="0.6"/>
<path d="M271.50 34.96V37.34M270.20 34.96H272.80" stroke="#333" stroke-width="0.5" fill="none"/>
<text class="ss" transform="translate(216.70 108.40) rotate(58.5)" font-size="5.55" fill="#333" stroke="#333" stroke-width="0.06">isotype control (10 &#956;g/mL)</text>
<text class="ss" transform="translate(229.75 108.40) rotate(58.5)" font-size="5.55" fill="#333" stroke="#333" stroke-width="0.06">&#945;B7-H1 (10 &#956;g/mL)</text>
<text class="ss" transform="translate(242.80 108.40) rotate(58.5)" font-size="5.55" fill="#333" stroke="#333" stroke-width="0.06">&#945;B7-DC (10 &#956;g/mL)</text>
<text class="ss" transform="translate(255.85 108.40) rotate(58.5)" font-size="5.55" fill="#333" stroke="#333" stroke-width="0.06">isotype control (20 &#956;g/mL)</text>
<text class="ss" transform="translate(268.90 108.40) rotate(58.5)" font-size="5.55" fill="#333" stroke="#333" stroke-width="0.06">&#945;B7-H1(10&#956;g/mL) + &#945;B7-DC (10&#956;g/mL)</text>
<text class="ss" x="291.00" y="16.90" font-size="7.0" fill="#111" stroke="#111" stroke-width="0.2">(pg/mL)</text>
<rect x="310.60" y="23.50" width="66.10" height="79.30" fill="none" stroke="#666" stroke-width="0.5"/>
<line x1="310.60" y1="102.80" x2="376.70" y2="102.80" stroke="#333" stroke-width="0.6"/>
<line x1="309.40" y1="102.80" x2="310.60" y2="102.80" stroke="#666" stroke-width="0.4"/>
<text class="ss" x="307.40" y="104.20" font-size="4.0" text-anchor="end" fill="#222" stroke="#222" stroke-width="0.1">0</text>
<line x1="309.40" y1="76.37" x2="310.60" y2="76.37" stroke="#666" stroke-width="0.4"/>
<text class="ss" x="307.40" y="77.77" font-size="4.0" text-anchor="end" fill="#222" stroke="#222" stroke-width="0.1">200</text>
<line x1="309.40" y1="49.93" x2="310.60" y2="49.93" stroke="#666" stroke-width="0.4"/>
<text class="ss" x="307.40" y="51.33" font-size="4.0" text-anchor="end" fill="#222" stroke="#222" stroke-width="0.1">400</text>
<line x1="309.40" y1="23.50" x2="310.60" y2="23.50" stroke="#666" stroke-width="0.4"/>
<text class="ss" x="307.40" y="24.90" font-size="4.0" text-anchor="end" fill="#222" stroke="#222" stroke-width="0.1">600</text>
<rect x="314.10" y="77.82" width="6.60" height="24.98" fill="#808080" stroke="#484848" stroke-width="0.6"/>
<path d="M317.40 77.29V77.82M316.10 77.29H318.70" stroke="#333" stroke-width="0.5" fill="none"/>
<rect x="327.40" y="70.42" width="6.60" height="32.38" fill="#808080" stroke="#484848" stroke-width="0.6"/>
<path d="M330.70 69.36V70.42M329.40 69.36H332.00" stroke="#333" stroke-width="0.5" fill="none"/>
<rect x="340.70" y="80.07" width="6.60" height="22.73" fill="#808080" stroke="#484848" stroke-width="0.6"/>
<path d="M344.00 79.67V80.07M342.70 79.67H345.30" stroke="#333" stroke-width="0.5" fill="none"/>
<rect x="354.00" y="77.03" width="6.60" height="25.77" fill="#808080" stroke="#484848" stroke-width="0.6"/>
<path d="M357.30 76.37V77.03M356.00 76.37H358.60" stroke="#333" stroke-width="0.5" fill="none"/>
<rect x="367.30" y="34.47" width="6.60" height="68.33" fill="#808080" stroke="#484848" stroke-width="0.6"/>
<path d="M370.60 33.68V34.47M369.30 33.68H371.90" stroke="#333" stroke-width="0.5" fill="none"/>
<text class="ss" transform="translate(314.80 108.40) rotate(58.5)" font-size="5.55" fill="#333" stroke="#333" stroke-width="0.06">isotype control (10 &#956;g/mL)</text>
<text class="ss" transform="translate(328.10 108.40) rotate(58.5)" font-size="5.55" fill="#333" stroke="#333" stroke-width="0.06">&#945;B7-H1 (10 &#956;g/mL)</text>
<text class="ss" transform="translate(341.40 108.40) rotate(58.5)" font-size="5.55" fill="#333" stroke="#333" stroke-width="0.06">&#945;B7-DC (10 &#956;g/mL)</text>
<text class="ss" transform="translate(354.70 108.40) rotate(58.5)" font-size="5.55" fill="#333" stroke="#333" stroke-width="0.06">isotype control (20 &#956;g/mL)</text>
<text class="ss" transform="translate(368.00 108.40) rotate(58.5)" font-size="5.55" fill="#333" stroke="#333" stroke-width="0.06">&#945;B7-H1(10&#956;g/mL) + &#945;B7-DC (10&#956;g/mL)</text>
<text class="ss" x="391.00" y="16.90" font-size="7.0" fill="#111" stroke="#111" stroke-width="0.2">(pg/mL)</text>
<rect x="410.70" y="23.50" width="66.30" height="79.30" fill="none" stroke="#666" stroke-width="0.5"/>
<line x1="410.70" y1="102.80" x2="477.00" y2="102.80" stroke="#333" stroke-width="0.6"/>
<line x1="409.50" y1="102.80" x2="410.70" y2="102.80" stroke="#666" stroke-width="0.4"/>
<text class="ss" x="407.50" y="104.20" font-size="4.0" text-anchor="end" fill="#222" stroke="#222" stroke-width="0.1">0</text>
<line x1="409.50" y1="82.97" x2="410.70" y2="82.97" stroke="#666" stroke-width="0.4"/>
<text class="ss" x="407.50" y="84.38" font-size="4.0" text-anchor="end" fill="#222" stroke="#222" stroke-width="0.1">50</text>
<line x1="409.50" y1="63.15" x2="410.70" y2="63.15" stroke="#666" stroke-width="0.4"/>
<text class="ss" x="407.50" y="64.55" font-size="4.0" text-anchor="end" fill="#222" stroke="#222" stroke-width="0.1">100</text>
<line x1="409.50" y1="43.32" x2="410.70" y2="43.32" stroke="#666" stroke-width="0.4"/>
<text class="ss" x="407.50" y="44.72" font-size="4.0" text-anchor="end" fill="#222" stroke="#222" stroke-width="0.1">150</text>
<line x1="409.50" y1="23.50" x2="410.70" y2="23.50" stroke="#666" stroke-width="0.4"/>
<text class="ss" x="407.50" y="24.90" font-size="4.0" text-anchor="end" fill="#222" stroke="#222" stroke-width="0.1">200</text>
<rect x="413.80" y="77.98" width="6.60" height="24.82" fill="#808080" stroke="#484848" stroke-width="0.6"/>
<path d="M417.10 77.38V77.98M415.80 77.38H418.40" stroke="#333" stroke-width="0.5" fill="none"/>
<rect x="427.05" y="73.26" width="6.60" height="29.54" fill="#808080" stroke="#484848" stroke-width="0.6"/>
<path d="M430.35 65.73V80.79M429.05 65.73H431.65" stroke="#333" stroke-width="0.5" fill="none"/>
<rect x="440.30" y="74.17" width="6.60" height="28.63" fill="#808080" stroke="#484848" stroke-width="0.6"/>
<path d="M443.60 67.11V81.23M442.30 67.11H444.90" stroke="#333" stroke-width="0.5" fill="none"/>
<rect x="453.55" y="76.87" width="6.60" height="25.93" fill="#808080" stroke="#484848" stroke-width="0.6"/>
<path d="M456.85 71.36V82.38M455.55 71.36H458.15" stroke="#333" stroke-width="0.5" fill="none"/>
<rect x="466.80" y="74.57" width="6.60" height="28.23" fill="#808080" stroke="#484848" stroke-width="0.6"/>
<path d="M470.10 73.97V74.57M468.80 73.97H471.40" stroke="#333" stroke-width="0.5" fill="none"/>
<text class="ss" transform="translate(414.50 108.40) rotate(58.5)" font-size="5.55" fill="#333" stroke="#333" stroke-width="0.06">isotype control (10 &#956;g/mL)</text>
<text class="ss" transform="translate(427.75 108.40) rotate(58.5)" font-size="5.55" fill="#333" stroke="#333" stroke-width="0.06">&#945;B7-H1 (10 &#956;g/mL)</text>
<text class="ss" transform="translate(441.00 108.40) rotate(58.5)" font-size="5.55" fill="#333" stroke="#333" stroke-width="0.06">&#945;B7-DC (10 &#956;g/mL)</text>
<text class="ss" transform="translate(454.25 108.40) rotate(58.5)" font-size="5.55" fill="#333" stroke="#333" stroke-width="0.06">isotype control (20 &#956;g/mL)</text>
<text class="ss" transform="translate(467.50 108.40) rotate(58.5)" font-size="5.55" fill="#333" stroke="#333" stroke-width="0.06">&#945;B7-H1(10&#956;g/mL) + &#945;B7-DC (10&#956;g/mL)</text>
<text class="ss" x="192.20" y="212.20" font-size="11.5" font-weight="bold" fill="#000" stroke="#000" stroke-width="0.15">E</text>
<text class="ss" transform="translate(217.40 258.60) rotate(-60.5)" font-size="7.0" fill="#222" stroke="#222" stroke-width="0.2">isotype control</text>
<text class="ss" transform="translate(242.80 258.40) rotate(-62)" font-size="7.0" fill="#222" stroke="#222" stroke-width="0.2">&#945;B7-H1 + &#945;B7-DC</text>
<g filter="url(#bl)">
<rect x="200.30" y="264.30" width="54.60" height="44.30" fill="#efefef" stroke="none" stroke-width="0"/>
<rect x="200.30" y="313.40" width="54.60" height="45.00" fill="#f7f7f7" stroke="none" stroke-width="0"/>
</g>
<g filter="url(#b1)">
<rect x="206.8" y="276.6" width="16.4" height="2.8" rx="1.4" fill="#333" fill-opacity="0.85"/>
<rect x="218.5" y="276.8" width="4.5" height="2.8" rx="1.4" fill="#222" fill-opacity="0.5"/>
<rect x="206.8" y="276.7" width="4.2" height="2.6" rx="1.3" fill="#222" fill-opacity="0.3"/>
<rect x="233.2" y="276.8" width="15.4" height="2.4" rx="1.2" fill="#666" fill-opacity="0.6"/>
<rect x="243.6" y="276.5" width="4.0" height="3.0" rx="1.5" fill="#222" fill-opacity="0.9"/>
<rect x="234.0" y="286.0" width="2.4" height="2.0" rx="1.0" fill="#666" fill-opacity="0.8"/>
<rect x="206.8" y="293.6" width="16.4" height="2.8" rx="1.4" fill="#888" fill-opacity="0.45"/>
<rect x="219.5" y="293.7" width="3.3" height="2.6" rx="1.3" fill="#666" fill-opacity="0.5"/>
<rect x="231.8" y="293.6" width="15.4" height="3.2" rx="1.6" fill="#777" fill-opacity="0.5"/>
<rect x="244.2" y="316.0" width="2.4" height="2.0" rx="1.0" fill="#777" fill-opacity="0.8"/>
</g>
<g filter="url(#b2)">
<rect x="208.0" y="332.1" width="14.0" height="9.0" rx="4.5" fill="#888" fill-opacity="0.3"/>
<rect x="233.5" y="332.1" width="14.5" height="9.0" rx="4.5" fill="#888" fill-opacity="0.55"/>
<rect x="205.0" y="326.2" width="19.6" height="5.2" rx="2.6" fill="#1a1a1a" fill-opacity="0.95"/>
<rect x="231.2" y="326.2" width="18.8" height="5.2" rx="2.6" fill="#1a1a1a" fill-opacity="0.95"/>
<rect x="203.4" y="340.3" width="22.6" height="9.0" rx="4.5" fill="#000" fill-opacity="1"/>
<rect x="229.6" y="340.3" width="21.6" height="9.0" rx="4.5" fill="#000" fill-opacity="1"/>
</g>
<polygon points="259.2,277.8 270.4,274.9 270.4,280.7" fill="#111"/>
<polygon points="259.2,329.3 270.4,326.4 270.4,332.2" fill="#111"/>
<text class="ss" x="274.40" y="280.30" font-size="7.7" fill="#111" stroke="#111" stroke-width="0.2">PY20</text>
<text class="ss" x="274.40" y="332.00" font-size="7.4" fill="#111" stroke="#111" stroke-width="0.2">SHP-2</text>
<text class="ss" x="265.50" y="297.40" font-size="6.4" text-anchor="middle" fill="#111" stroke="#111" stroke-width="0.2">&#9733;</text>
<text class="ss" x="265.50" y="347.20" font-size="6.4" text-anchor="middle" fill="#111" stroke="#111" stroke-width="0.2">&#9733;</text>
<text class="ss" x="312.00" y="212.20" font-size="11.5" font-weight="bold" fill="#000" stroke="#000" stroke-width="0.15">F</text>
<text class="ss" x="320.40" y="220.40" font-size="7.0" fill="#111" stroke="#111" stroke-width="0.2">(pg/mL)</text>
<rect x="340.40" y="228.00" width="147.40" height="137.50" fill="none" stroke="#777" stroke-width="0.5"/>
<line x1="340.40" y1="365.50" x2="487.80" y2="365.50" stroke="#333" stroke-width="0.6"/>
<line x1="340.40" y1="228.00" x2="340.40" y2="365.50" stroke="#555" stroke-width="0.6"/>
<line x1="338.90" y1="365.50" x2="340.40" y2="365.50" stroke="#555" stroke-width="0.4"/>
<text class="ss" x="337.60" y="367.90" font-size="6.7" text-anchor="end" fill="#111" stroke="#111" stroke-width="0.2">0</text>
<line x1="338.90" y1="348.31" x2="340.40" y2="348.31" stroke="#555" stroke-width="0.4"/>
<text class="ss" x="337.60" y="350.71" font-size="6.7" text-anchor="end" fill="#111" stroke="#111" stroke-width="0.2">100</text>
<line x1="338.90" y1="331.12" x2="340.40" y2="331.12" stroke="#555" stroke-width="0.4"/>
<text class="ss" x="337.60" y="333.52" font-size="6.7" text-anchor="end" fill="#111" stroke="#111" stroke-width="0.2">200</text>
<line x1="338.90" y1="313.94" x2="340.40" y2="313.94" stroke="#555" stroke-width="0.4"/>
<text class="ss" x="337.60" y="316.34" font-size="6.7" text-anchor="end" fill="#111" stroke="#111" stroke-width="0.2">300</text>
<line x1="338.90" y1="296.75" x2="340.40" y2="296.75" stroke="#555" stroke-width="0.4"/>
<text class="ss" x="337.60" y="299.15" font-size="6.7" text-anchor="end" fill="#111" stroke="#111" stroke-width="0.2">400</text>
<line x1="338.90" y1="279.56" x2="340.40" y2="279.56" stroke="#555" stroke-width="0.4"/>
<text class="ss" x="337.60" y="281.96" font-size="6.7" text-anchor="end" fill="#111" stroke="#111" stroke-width="0.2">500</text>
<line x1="338.90" y1="262.38" x2="340.40" y2="262.38" stroke="#555" stroke-width="0.4"/>
<text class="ss" x="337.60" y="264.77" font-size="6.7" text-anchor="end" fill="#111" stroke="#111" stroke-width="0.2">600</text>
<line x1="338.90" y1="245.19" x2="340.40" y2="245.19" stroke="#555" stroke-width="0.4"/>
<text class="ss" x="337.60" y="247.59" font-size="6.7" text-anchor="end" fill="#111" stroke="#111" stroke-width="0.2">700</text>
<line x1="338.90" y1="228.00" x2="340.40" y2="228.00" stroke="#555" stroke-width="0.4"/>
<text class="ss" x="337.60" y="230.40" font-size="6.7" text-anchor="end" fill="#111" stroke="#111" stroke-width="0.2">800</text>
<text class="ss" transform="translate(353.44 361.40) rotate(-90)" font-size="6.9" fill="#111" stroke="#111" stroke-width="0.2">&lt;31.2</text>
<rect x="355.14" y="334.91" width="8.60" height="30.59" fill="#fff" stroke="#222" stroke-width="0.6"/>
<path d="M359.44 334.39V335.42M357.84 334.39H361.04M357.84 335.42H361.04" stroke="#333" stroke-width="0.5" fill="none"/>
<text class="ss" transform="translate(362.74 375.20) rotate(-57.5)" font-size="7.2" text-anchor="end" fill="#111" stroke="#111" stroke-width="0.2">Bulk tumor</text>
<text class="ss" transform="translate(381.32 361.40) rotate(-90)" font-size="6.9" fill="#111" stroke="#111" stroke-width="0.2">&lt;31.2</text>
<text class="ss" transform="translate(395.72 361.40) rotate(-90)" font-size="6.9" fill="#111" stroke="#111" stroke-width="0.2">&lt;31.2</text>
<text class="ss" transform="translate(392.22 375.20) rotate(-57.5)" font-size="7.2" text-anchor="end" fill="#111" stroke="#111" stroke-width="0.2">CD4-depleted</text>
<rect x="405.50" y="353.81" width="8.60" height="11.69" fill="#000" stroke="#000" stroke-width="0.4"/>
<rect x="414.10" y="330.27" width="8.60" height="35.23" fill="#fff" stroke="#222" stroke-width="0.6"/>
<path d="M418.40 329.75V330.78M416.80 329.75H420.00M416.80 330.78H420.00" stroke="#333" stroke-width="0.5" fill="none"/>
<text class="ss" transform="translate(421.70 375.20) rotate(-57.5)" font-size="7.2" text-anchor="end" fill="#111" stroke="#111" stroke-width="0.2">CD8-depleted</text>
<rect x="434.98" y="334.05" width="8.60" height="31.45" fill="#000" stroke="#000" stroke-width="0.4"/>
<rect x="443.58" y="240.03" width="8.60" height="125.47" fill="#fff" stroke="#222" stroke-width="0.6"/>
<path d="M447.88 239.17V240.89M446.28 239.17H449.48M446.28 240.89H449.48" stroke="#333" stroke-width="0.5" fill="none"/>
<text class="ss" transform="translate(451.18 375.20) rotate(-57.5)" font-size="7.2" text-anchor="end" fill="#111" stroke="#111" stroke-width="0.2">CD4-enriched</text>
<text class="ss" transform="translate(471.36 361.40) rotate(-90)" font-size="6.9" fill="#111" stroke="#111" stroke-width="0.2">&lt;31.2</text>
<rect x="473.06" y="344.02" width="8.60" height="21.48" fill="#fff" stroke="#222" stroke-width="0.6"/>
<path d="M477.36 342.98V345.05M475.76 342.98H478.96M475.76 345.05H478.96" stroke="#333" stroke-width="0.5" fill="none"/>
<text class="ss" transform="translate(480.66 375.20) rotate(-57.5)" font-size="7.2" text-anchor="end" fill="#111" stroke="#111" stroke-width="0.2">CD8-enriched</text>
<rect x="354.60" y="239.40" width="7.40" height="3.20" fill="#000" stroke="#000" stroke-width="0.3"/>
<rect x="354.60" y="250.80" width="7.40" height="3.40" fill="#fff" stroke="#222" stroke-width="0.5"/>
<text class="ss" x="363.80" y="243.60" font-size="7.0" fill="#111" stroke="#111" stroke-width="0.2">Control Ab</text>
<text class="ss" x="363.80" y="255.20" font-size="7.0" fill="#111" stroke="#111" stroke-width="0.2">&#945;B7-H1 + &#945;B7-DC</text>
</svg>
</body>
</html>
